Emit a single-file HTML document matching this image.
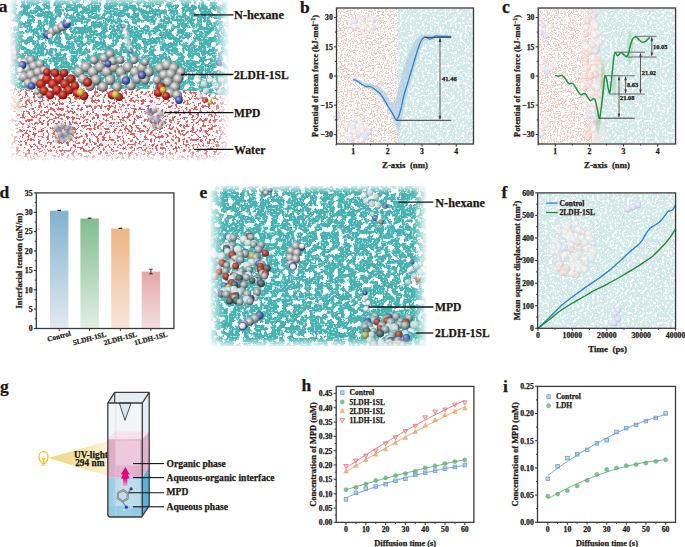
<!DOCTYPE html>
<html><head><meta charset="utf-8"><style>
html,body{margin:0;padding:0;background:#fff;width:685px;height:547px;overflow:hidden}
svg{display:block}
text{font-family:"Liberation Serif",serif;font-weight:bold;fill:#231815;stroke:#231815;stroke-width:0.25px}
</style></head><body>
<svg width="685" height="547" viewBox="0 0 685 547">
<defs>
<filter id="tealF" x="0" y="0" width="100%" height="100%" color-interpolation-filters="sRGB">
 <feTurbulence type="fractalNoise" baseFrequency="0.18" numOctaves="3" seed="4"/>
 <feColorMatrix type="matrix" values="0 0 0 0 1  0 0 0 0 1  0 0 0 0 1  14 0 0 0 -7.6"/>
</filter>
<filter id="tealF2" x="0" y="0" width="100%" height="100%" color-interpolation-filters="sRGB">
 <feTurbulence type="fractalNoise" baseFrequency="0.5" numOctaves="2" seed="11"/>
 <feColorMatrix type="matrix" values="0 0 0 0 0.7  0 0 0 0 0.88  0 0 0 0 0.88  10 0 0 0 -6.0"/>
</filter>
<filter id="ltF" x="0" y="0" width="100%" height="100%" color-interpolation-filters="sRGB">
 <feTurbulence type="fractalNoise" baseFrequency="0.4" numOctaves="3" seed="9"/>
 <feColorMatrix type="matrix" values="0 0 0 0 1  0 0 0 0 1  0 0 0 0 1  12 0 0 0 -6.5"/>
 <feGaussianBlur stdDeviation="0.6"/>
</filter>
<filter id="waterF" x="0" y="0" width="100%" height="100%" color-interpolation-filters="sRGB">
 <feTurbulence type="fractalNoise" baseFrequency="0.36" numOctaves="3" seed="7"/>
 <feColorMatrix type="matrix" values="0 0 0 0 0.85  0 0 0 0 0.38  0 0 0 0 0.38  18 0 0 0 -9.75"/>
 <feGaussianBlur stdDeviation="0.4"/>
</filter>
<filter id="pinkF" x="0" y="0" width="100%" height="100%" color-interpolation-filters="sRGB">
 <feTurbulence type="fractalNoise" baseFrequency="0.7" numOctaves="2" seed="5"/>
 <feColorMatrix type="matrix" values="0 0 0 0 0.95  0 0 0 0 0.8  0 0 0 0 0.76  14 0 0 0 -7.15"/>
 <feGaussianBlur stdDeviation="0.3"/>
</filter>
<filter id="soft" x="-2%" y="-2%" width="104%" height="104%" color-interpolation-filters="sRGB"><feGaussianBlur stdDeviation="0.4"/></filter>
<radialGradient id="gS" cx="0.38" cy="0.35" r="0.68"><stop offset="0" stop-color="#f4f4f4"/><stop offset="0.5" stop-color="#a8a8a8"/><stop offset="1" stop-color="#4a4a4a"/></radialGradient>
<radialGradient id="rS" cx="0.38" cy="0.35" r="0.65"><stop offset="0" stop-color="#e87a6a"/><stop offset="0.55" stop-color="#b8281e"/><stop offset="1" stop-color="#6a1010"/></radialGradient>
<radialGradient id="bS" cx="0.38" cy="0.35" r="0.65"><stop offset="0" stop-color="#a8b4e8"/><stop offset="0.55" stop-color="#4a5ab0"/><stop offset="1" stop-color="#22306a"/></radialGradient>
<radialGradient id="yS" cx="0.38" cy="0.35" r="0.65"><stop offset="0" stop-color="#f4e6a0"/><stop offset="0.55" stop-color="#c9a93a"/><stop offset="1" stop-color="#7a6010"/></radialGradient>
<radialGradient id="dS" cx="0.38" cy="0.35" r="0.65"><stop offset="0" stop-color="#9a9a9a"/><stop offset="0.55" stop-color="#555"/><stop offset="1" stop-color="#222"/></radialGradient>
<radialGradient id="fS" cx="0.4" cy="0.38" r="0.65"><stop offset="0" stop-color="#ffffff"/><stop offset="0.6" stop-color="#f1eaea"/><stop offset="1" stop-color="#d9c6c4"/></radialGradient>
<radialGradient id="fP" cx="0.4" cy="0.38" r="0.65"><stop offset="0" stop-color="#fbeeee"/><stop offset="0.6" stop-color="#efd2cc"/><stop offset="1" stop-color="#dcb0a8"/></radialGradient>
<radialGradient id="fB" cx="0.4" cy="0.38" r="0.65"><stop offset="0" stop-color="#f2f2fb"/><stop offset="0.6" stop-color="#d8dcf0"/><stop offset="1" stop-color="#b9bfdf"/></radialGradient>
<radialGradient id="wS" cx="0.38" cy="0.35" r="0.65"><stop offset="0" stop-color="#ffffff"/><stop offset="0.6" stop-color="#e2e2e2"/><stop offset="1" stop-color="#9a9a9a"/></radialGradient>
<linearGradient id="fadeX" x1="0" y1="0" x2="1" y2="0"><stop offset="0" stop-color="#fff" stop-opacity="1"/><stop offset="1" stop-color="#fff" stop-opacity="0"/></linearGradient>
<linearGradient id="fadeXr" x1="0" y1="0" x2="1" y2="0"><stop offset="0" stop-color="#fff" stop-opacity="0"/><stop offset="1" stop-color="#fff" stop-opacity="1"/></linearGradient>
<linearGradient id="fadeY" x1="0" y1="0" x2="0" y2="1"><stop offset="0" stop-color="#fff" stop-opacity="1"/><stop offset="1" stop-color="#fff" stop-opacity="0"/></linearGradient>
<linearGradient id="fadeYb" x1="0" y1="0" x2="0" y2="1"><stop offset="0" stop-color="#fff" stop-opacity="0"/><stop offset="1" stop-color="#fff" stop-opacity="1"/></linearGradient>
<linearGradient id="barB" x1="0" y1="0" x2="0" y2="1"><stop offset="0" stop-color="#7fb2cf"/><stop offset="1" stop-color="#e3e9ef"/></linearGradient>
<linearGradient id="barG" x1="0" y1="0" x2="0" y2="1"><stop offset="0" stop-color="#80bc8e"/><stop offset="1" stop-color="#e2efe4"/></linearGradient>
<linearGradient id="barO" x1="0" y1="0" x2="0" y2="1"><stop offset="0" stop-color="#efb584"/><stop offset="1" stop-color="#f8e6da"/></linearGradient>
<linearGradient id="barP" x1="0" y1="0" x2="0" y2="1"><stop offset="0" stop-color="#e5a6aa"/><stop offset="1" stop-color="#f2dfe0"/></linearGradient>
<linearGradient id="cone" x1="0" y1="0" x2="1" y2="0"><stop offset="0" stop-color="#efd47e"/><stop offset="0.6" stop-color="#f6e4a8"/><stop offset="1" stop-color="#fbf3da"/></linearGradient>
<linearGradient id="pinkT" x1="0" y1="0" x2="1" y2="0"><stop offset="0" stop-color="#d9a7c3"/><stop offset="0.5" stop-color="#e7bad2"/><stop offset="1" stop-color="#dba9c5"/></linearGradient>
<linearGradient id="blueT" x1="0" y1="0" x2="1" y2="0"><stop offset="0" stop-color="#94cbe2"/><stop offset="0.5" stop-color="#b6dcec"/><stop offset="1" stop-color="#99cde3"/></linearGradient>
<linearGradient id="pc2" x1="0" y1="0" x2="1" y2="0"><stop offset="0" stop-color="#f4e4e2" stop-opacity="0"/><stop offset="0.5" stop-color="#ece4e4" stop-opacity="0.7"/><stop offset="1" stop-color="#dde9e9" stop-opacity="0"/></linearGradient>
</defs>
<clipPath id="clA"><rect x="10" y="0" width="219" height="161"/></clipPath>
<clipPath id="clTeal"><path d="M10,0 H229 V95 C215,96 205,92 195,91 C180,90 165,90 150,89 C130,88 110,90 90,87 C70,85 50,88 30,89 C20,89 15,88 10,88 Z"/></clipPath>
<filter id="blur1" x="-20%" y="-20%" width="140%" height="140%"><feGaussianBlur stdDeviation="0.8"/></filter>
<g filter="url(#soft)"><g clip-path="url(#clA)">
<rect x="10" y="0" width="219" height="161" fill="#fff"/>
<rect x="10" y="60" width="219" height="101" filter="url(#waterF)"/>
<g clip-path="url(#clTeal)"><rect x="10" y="0" width="219" height="97" fill="#48b2b2"/><rect x="10" y="0" width="219" height="97" filter="url(#tealF2)"/><rect x="10" y="0" width="219" height="97" filter="url(#tealF)"/></g>
<circle cx="47.5" cy="34.5" r="4.4" fill="url(#bS)"/>
<circle cx="52.0" cy="31.5" r="4.6" fill="url(#gS)"/>
<circle cx="57.0" cy="29.0" r="4.6" fill="url(#gS)"/>
<circle cx="62.0" cy="26.5" r="4.6" fill="url(#gS)"/>
<circle cx="66.5" cy="24.0" r="4.2" fill="url(#bS)"/>
<circle cx="50.0" cy="36.0" r="2.5" fill="url(#wS)"/>
<circle cx="68.0" cy="21.0" r="2.4" fill="url(#wS)"/>
<g opacity="0.55">
<circle cx="124.0" cy="28.0" r="3.2" fill="url(#wS)"/>
<circle cx="125.5" cy="33.0" r="3.2" fill="url(#wS)"/>
<circle cx="127.0" cy="38.0" r="3.2" fill="url(#wS)"/>
<circle cx="128.5" cy="43.0" r="3.2" fill="url(#wS)"/>
<circle cx="130.0" cy="48.0" r="3.2" fill="url(#wS)"/>
<circle cx="123.0" cy="26.0" r="2.6" fill="url(#bS)"/>
<circle cx="131.0" cy="51.0" r="2.6" fill="url(#bS)"/>
</g>
<g opacity="0.6">
<circle cx="13.0" cy="44.0" r="3.5" fill="url(#gS)"/>
<circle cx="13.7" cy="48.7" r="3.5" fill="url(#gS)"/>
<circle cx="14.3" cy="53.3" r="3.5" fill="url(#gS)"/>
<circle cx="15.0" cy="58.0" r="3.5" fill="url(#gS)"/>
<circle cx="12.0" cy="42.0" r="2.6" fill="url(#bS)"/>
</g>
<circle cx="25.0" cy="62.0" r="4.6" fill="url(#gS)"/>
<circle cx="31.0" cy="60.0" r="4.4" fill="url(#gS)"/>
<circle cx="27.0" cy="69.0" r="4.9" fill="url(#gS)"/>
<circle cx="34.0" cy="66.0" r="4.8" fill="url(#gS)"/>
<circle cx="40.0" cy="64.0" r="4.4" fill="url(#gS)"/>
<circle cx="24.0" cy="77.0" r="4.9" fill="url(#gS)"/>
<circle cx="31.0" cy="75.0" r="5.1" fill="url(#gS)"/>
<circle cx="38.0" cy="72.0" r="4.8" fill="url(#gS)"/>
<circle cx="44.0" cy="70.0" r="4.1" fill="url(#gS)"/>
<circle cx="28.0" cy="83.0" r="4.4" fill="url(#gS)"/>
<circle cx="35.0" cy="81.0" r="4.6" fill="url(#gS)"/>
<circle cx="42.0" cy="78.0" r="4.1" fill="url(#gS)"/>
<circle cx="22.5" cy="65.0" r="3.9" fill="url(#bS)"/>
<circle cx="31.5" cy="86.0" r="3.7" fill="url(#bS)"/>
<circle cx="20.0" cy="70.0" r="3.0" fill="url(#wS)"/>
<circle cx="41.0" cy="84.0" r="4.8" fill="url(#rS)"/>
<circle cx="47.0" cy="79.0" r="4.8" fill="url(#rS)"/>
<circle cx="53.0" cy="84.0" r="4.9" fill="url(#rS)"/>
<circle cx="59.0" cy="79.0" r="4.9" fill="url(#rS)"/>
<circle cx="65.0" cy="84.0" r="4.8" fill="url(#rS)"/>
<circle cx="71.0" cy="79.0" r="4.6" fill="url(#rS)"/>
<circle cx="44.0" cy="91.0" r="4.7" fill="url(#rS)"/>
<circle cx="50.0" cy="95.0" r="4.4" fill="url(#rS)"/>
<circle cx="57.0" cy="90.0" r="4.8" fill="url(#rS)"/>
<circle cx="63.0" cy="95.0" r="4.5" fill="url(#rS)"/>
<circle cx="69.0" cy="90.0" r="4.6" fill="url(#rS)"/>
<circle cx="75.0" cy="86.0" r="4.4" fill="url(#rS)"/>
<circle cx="55.0" cy="73.0" r="4.1" fill="url(#rS)"/>
<circle cx="64.0" cy="73.0" r="4.1" fill="url(#rS)"/>
<circle cx="47.0" cy="72.0" r="3.8" fill="url(#rS)"/>
<circle cx="37.0" cy="92.0" r="2.8" fill="url(#gS)"/>
<circle cx="40.0" cy="96.0" r="2.5" fill="url(#gS)"/>
<circle cx="79.0" cy="72.0" r="5.3" fill="url(#gS)"/>
<circle cx="86.0" cy="67.0" r="5.3" fill="url(#gS)"/>
<circle cx="93.0" cy="72.0" r="5.4" fill="url(#gS)"/>
<circle cx="100.0" cy="67.0" r="5.3" fill="url(#gS)"/>
<circle cx="107.0" cy="72.0" r="5.4" fill="url(#gS)"/>
<circle cx="114.0" cy="67.0" r="5.3" fill="url(#gS)"/>
<circle cx="121.0" cy="72.0" r="5.3" fill="url(#gS)"/>
<circle cx="128.0" cy="67.0" r="5.2" fill="url(#gS)"/>
<circle cx="135.0" cy="72.0" r="5.2" fill="url(#gS)"/>
<circle cx="142.0" cy="68.0" r="4.9" fill="url(#gS)"/>
<circle cx="149.0" cy="72.0" r="4.8" fill="url(#gS)"/>
<circle cx="83.0" cy="79.0" r="5.1" fill="url(#gS)"/>
<circle cx="96.0" cy="80.0" r="5.2" fill="url(#gS)"/>
<circle cx="110.0" cy="80.0" r="5.2" fill="url(#gS)"/>
<circle cx="124.0" cy="79.0" r="5.1" fill="url(#gS)"/>
<circle cx="137.0" cy="79.0" r="4.9" fill="url(#gS)"/>
<circle cx="90.0" cy="86.0" r="4.8" fill="url(#gS)"/>
<circle cx="103.0" cy="87.0" r="4.9" fill="url(#gS)"/>
<circle cx="117.0" cy="87.0" r="4.8" fill="url(#gS)"/>
<circle cx="131.0" cy="86.0" r="4.6" fill="url(#gS)"/>
<circle cx="145.0" cy="80.0" r="4.6" fill="url(#gS)"/>
<circle cx="104.0" cy="58.0" r="4.6" fill="url(#gS)"/>
<circle cx="110.0" cy="54.0" r="4.4" fill="url(#gS)"/>
<circle cx="113.0" cy="61.0" r="4.4" fill="url(#gS)"/>
<circle cx="94.0" cy="60.0" r="4.4" fill="url(#gS)"/>
<circle cx="120.0" cy="60.0" r="4.0" fill="url(#gS)"/>
<circle cx="134.0" cy="60.0" r="4.0" fill="url(#gS)"/>
<circle cx="145.0" cy="62.0" r="3.9" fill="url(#gS)"/>
<circle cx="87.6" cy="82.3" r="4.5" fill="url(#rS)"/>
<circle cx="77.0" cy="93.0" r="4.3" fill="url(#rS)"/>
<circle cx="84.0" cy="96.0" r="4.4" fill="url(#rS)"/>
<circle cx="112.0" cy="95.0" r="4.4" fill="url(#rS)"/>
<circle cx="119.0" cy="97.0" r="4.1" fill="url(#rS)"/>
<circle cx="80.6" cy="92.5" r="3.9" fill="url(#yS)"/>
<circle cx="115.6" cy="94.6" r="3.9" fill="url(#yS)"/>
<circle cx="126.0" cy="80.6" r="4.1" fill="url(#bS)"/>
<circle cx="142.0" cy="75.3" r="4.0" fill="url(#bS)"/>
<circle cx="108.0" cy="64.0" r="3.4" fill="url(#bS)"/>
<circle cx="160.0" cy="68.0" r="5.1" fill="url(#gS)"/>
<circle cx="167.0" cy="65.0" r="5.2" fill="url(#gS)"/>
<circle cx="174.0" cy="68.0" r="5.1" fill="url(#gS)"/>
<circle cx="181.0" cy="72.0" r="4.6" fill="url(#gS)"/>
<circle cx="164.0" cy="75.0" r="5.1" fill="url(#gS)"/>
<circle cx="171.0" cy="74.0" r="5.3" fill="url(#gS)"/>
<circle cx="178.0" cy="79.0" r="5.1" fill="url(#gS)"/>
<circle cx="168.0" cy="82.0" r="5.1" fill="url(#gS)"/>
<circle cx="175.0" cy="87.0" r="5.1" fill="url(#gS)"/>
<circle cx="170.0" cy="93.0" r="4.8" fill="url(#gS)"/>
<circle cx="177.0" cy="95.0" r="4.8" fill="url(#gS)"/>
<circle cx="157.0" cy="80.0" r="4.4" fill="url(#gS)"/>
<circle cx="161.0" cy="87.0" r="4.6" fill="url(#rS)"/>
<circle cx="158.0" cy="93.0" r="4.1" fill="url(#rS)"/>
<circle cx="166.0" cy="96.0" r="3.9" fill="url(#rS)"/>
<circle cx="163.0" cy="90.0" r="3.4" fill="url(#yS)"/>
<circle cx="179.0" cy="100.0" r="3.9" fill="url(#bS)"/>
<g opacity="0.75">
<circle cx="198.0" cy="80.0" r="3.4" fill="url(#wS)"/>
<circle cx="204.0" cy="84.0" r="3.4" fill="url(#wS)"/>
<circle cx="210.0" cy="80.0" r="3.4" fill="url(#wS)"/>
<circle cx="216.0" cy="86.0" r="3.4" fill="url(#wS)"/>
<circle cx="206.0" cy="91.0" r="3.2" fill="url(#wS)"/>
<circle cx="221.0" cy="80.0" r="3.2" fill="url(#wS)"/>
<circle cx="213.0" cy="96.0" r="3.0" fill="url(#wS)"/>
<circle cx="220.0" cy="92.0" r="3.0" fill="url(#wS)"/>
<circle cx="200.0" cy="96.0" r="3.0" fill="url(#wS)"/>
<circle cx="224.0" cy="98.0" r="2.8" fill="url(#wS)"/>
<circle cx="205.0" cy="100.0" r="3.0" fill="url(#rS)"/>
<circle cx="210.0" cy="102.0" r="2.6" fill="url(#yS)"/>
<circle cx="219.0" cy="63.0" r="3.0" fill="url(#bS)"/>
<circle cx="223.0" cy="70.0" r="2.6" fill="url(#wS)"/>
</g>
<g filter="url(#blur1)" opacity="1">
<circle cx="56.0" cy="128.0" r="3.0" fill="url(#gS)"/>
<circle cx="62.0" cy="126.0" r="3.0" fill="url(#gS)"/>
<circle cx="68.0" cy="128.0" r="3.0" fill="url(#gS)"/>
<circle cx="60.0" cy="134.0" r="3.0" fill="url(#gS)"/>
<circle cx="66.0" cy="134.0" r="3.0" fill="url(#gS)"/>
<circle cx="72.0" cy="132.0" r="2.8" fill="url(#gS)"/>
<circle cx="58.0" cy="140.0" r="2.6" fill="url(#gS)"/>
<circle cx="64.0" cy="140.0" r="2.6" fill="url(#gS)"/>
<circle cx="70.0" cy="138.0" r="2.6" fill="url(#gS)"/>
<circle cx="60.0" cy="130.0" r="1.8" fill="url(#bS)"/>
<circle cx="67.0" cy="131.0" r="1.8" fill="url(#bS)"/>
<circle cx="63.0" cy="137.0" r="1.8" fill="url(#bS)"/>
<circle cx="70.0" cy="127.0" r="1.8" fill="url(#bS)"/>
<circle cx="149.0" cy="112.0" r="2.8" fill="url(#gS)"/>
<circle cx="155.0" cy="110.0" r="2.8" fill="url(#gS)"/>
<circle cx="161.0" cy="114.0" r="2.8" fill="url(#gS)"/>
<circle cx="151.0" cy="118.0" r="2.8" fill="url(#gS)"/>
<circle cx="157.0" cy="120.0" r="2.8" fill="url(#gS)"/>
<circle cx="163.0" cy="122.0" r="2.6" fill="url(#gS)"/>
<circle cx="154.0" cy="126.0" r="2.6" fill="url(#gS)"/>
<circle cx="160.0" cy="127.0" r="2.4" fill="url(#gS)"/>
<circle cx="152.0" cy="113.0" r="1.8" fill="url(#bS)"/>
<circle cx="158.0" cy="117.0" r="1.8" fill="url(#bS)"/>
<circle cx="155.0" cy="123.0" r="1.8" fill="url(#bS)"/>
<circle cx="149.0" cy="110.0" r="1.8" fill="url(#bS)"/>
<circle cx="14" cy="98" r="3" fill="#cfc6a8" opacity="0.7"/>
<circle cx="18" cy="103" r="3" fill="#cfc6a8" opacity="0.7"/>
<circle cx="14" cy="107" r="3" fill="#cfc6a8" opacity="0.7"/>
<circle cx="19" cy="109" r="3" fill="#cfc6a8" opacity="0.7"/>
</g>
</g></g>
<rect x="9" y="0" width="14" height="163" fill="url(#fadeX)"/>
<rect x="213" y="0" width="17" height="163" fill="url(#fadeXr)"/>
<rect x="9" y="149" width="222" height="13" fill="url(#fadeYb)"/>
<rect x="9" y="0" width="222" height="6" fill="url(#fadeY)" opacity="0.6"/>
<line x1="194.0" y1="14.9" x2="233.4" y2="14.9" stroke="#111" stroke-width="1.3" />
<text x="234.0" y="19.2" font-size="12.3" text-anchor="start" >N-hexane</text>
<line x1="181.0" y1="74.5" x2="233.4" y2="74.5" stroke="#111" stroke-width="1.3" />
<text x="234.0" y="78.8" font-size="11.6" text-anchor="start" >2LDH-1SL</text>
<line x1="164.7" y1="112.6" x2="233.4" y2="112.6" stroke="#111" stroke-width="1.3" />
<text x="234.0" y="117.0" font-size="11.6" text-anchor="start" >MPD</text>
<line x1="194.0" y1="149.3" x2="233.4" y2="149.3" stroke="#111" stroke-width="1.3" />
<text x="234.0" y="153.7" font-size="11.8" text-anchor="start" >Water</text>
<text x="-1.3" y="11.9" font-size="17.5" text-anchor="start" >a</text>
<rect x="337" y="8.6" width="61" height="134.8" filter="url(#pinkF)"/>
<rect x="398" y="8.6" width="75" height="134.8" fill="#d3e9e9"/>
<rect x="398" y="8.6" width="75" height="134.8" filter="url(#ltF)"/>
<g opacity="0.75">
<circle cx="360.1" cy="17.4" r="3.1" fill="url(#fS)"/>
<circle cx="359.6" cy="19.2" r="3.1" fill="url(#fB)"/>
<circle cx="362.6" cy="19.6" r="3.2" fill="url(#fS)"/>
<circle cx="362.5" cy="20.0" r="3.3" fill="url(#fB)"/>
<circle cx="369.5" cy="20.1" r="2.9" fill="url(#fS)"/>
<circle cx="370.6" cy="20.3" r="3.3" fill="url(#fS)"/>
<circle cx="372.5" cy="20.3" r="3.3" fill="url(#fB)"/>
<circle cx="350.9" cy="21.6" r="3.0" fill="url(#fS)"/>
<circle cx="354.4" cy="21.9" r="3.2" fill="url(#fB)"/>
<circle cx="360.6" cy="22.1" r="2.9" fill="url(#fS)"/>
<circle cx="362.9" cy="23.9" r="2.8" fill="url(#fS)"/>
<circle cx="371.0" cy="24.2" r="2.7" fill="url(#fS)"/>
<circle cx="361.8" cy="24.7" r="3.2" fill="url(#fS)"/>
<circle cx="359.6" cy="25.2" r="2.7" fill="url(#fS)"/>
<circle cx="359.0" cy="25.4" r="2.6" fill="url(#fS)"/>
<circle cx="364.5" cy="25.7" r="3.2" fill="url(#fS)"/>
<circle cx="354.3" cy="26.7" r="3.1" fill="url(#fS)"/>
<circle cx="365.1" cy="27.2" r="2.9" fill="url(#fS)"/>
<circle cx="373.2" cy="27.6" r="3.2" fill="url(#fB)"/>
<circle cx="371.2" cy="27.9" r="2.6" fill="url(#fS)"/>
<circle cx="362.4" cy="28.6" r="2.7" fill="url(#fS)"/>
<circle cx="369.2" cy="29.3" r="2.8" fill="url(#fS)"/>
<circle cx="359.4" cy="121.4" r="2.9" fill="url(#fS)"/>
<circle cx="355.0" cy="122.3" r="2.7" fill="url(#fB)"/>
<circle cx="360.3" cy="123.5" r="2.6" fill="url(#fS)"/>
<circle cx="354.5" cy="123.8" r="2.9" fill="url(#fB)"/>
<circle cx="353.7" cy="124.4" r="2.7" fill="url(#fS)"/>
<circle cx="346.7" cy="124.7" r="3.1" fill="url(#fS)"/>
<circle cx="358.4" cy="126.1" r="3.2" fill="url(#fS)"/>
<circle cx="365.8" cy="127.2" r="3.1" fill="url(#fS)"/>
<circle cx="352.9" cy="127.2" r="2.9" fill="url(#fB)"/>
<circle cx="361.5" cy="127.3" r="2.7" fill="url(#fS)"/>
<circle cx="369.4" cy="128.1" r="2.8" fill="url(#fS)"/>
<circle cx="358.8" cy="129.5" r="2.9" fill="url(#fS)"/>
<circle cx="362.9" cy="130.6" r="3.0" fill="url(#fS)"/>
<circle cx="351.1" cy="130.9" r="3.3" fill="url(#fS)"/>
<circle cx="350.3" cy="131.1" r="2.6" fill="url(#fS)"/>
<circle cx="358.8" cy="131.2" r="2.9" fill="url(#fB)"/>
<circle cx="354.4" cy="131.3" r="2.9" fill="url(#fS)"/>
<circle cx="368.8" cy="131.5" r="3.1" fill="url(#fB)"/>
<circle cx="361.6" cy="131.5" r="3.2" fill="url(#fS)"/>
<circle cx="361.9" cy="132.0" r="3.1" fill="url(#fS)"/>
<circle cx="358.6" cy="133.9" r="3.0" fill="url(#fB)"/>
<circle cx="346.9" cy="135.2" r="3.1" fill="url(#fS)"/>
<circle cx="364.8" cy="136.2" r="3.1" fill="url(#fS)"/>
<circle cx="349.7" cy="136.4" r="3.2" fill="url(#fS)"/>
<circle cx="365.5" cy="136.9" r="3.1" fill="url(#fB)"/>
<circle cx="361.9" cy="138.5" r="3.1" fill="url(#fB)"/>
<circle cx="351.5" cy="139.0" r="2.7" fill="url(#fB)"/>
<circle cx="361.2" cy="140.1" r="3.2" fill="url(#fS)"/>
<circle cx="381.6" cy="85.7" r="2.3" fill="url(#fS)"/>
<circle cx="380.5" cy="86.4" r="2.8" fill="url(#fB)"/>
<circle cx="385.1" cy="87.4" r="2.2" fill="url(#fS)"/>
<circle cx="383.4" cy="88.5" r="2.7" fill="url(#fS)"/>
<circle cx="386.4" cy="91.1" r="2.8" fill="url(#fS)"/>
<circle cx="377.1" cy="92.5" r="2.7" fill="url(#fS)"/>
<circle cx="378.7" cy="92.6" r="2.2" fill="url(#fS)"/>
<circle cx="377.4" cy="97.2" r="2.5" fill="url(#fS)"/>
<circle cx="379.6" cy="97.5" r="2.2" fill="url(#fB)"/>
<circle cx="380.2" cy="97.6" r="2.6" fill="url(#fS)"/>
<circle cx="382.7" cy="99.0" r="2.7" fill="url(#fS)"/>
<circle cx="379.5" cy="104.7" r="2.4" fill="url(#fS)"/>
<circle cx="337.2" cy="115.1" r="2.7" fill="url(#fB)"/>
<circle cx="336.9" cy="117.6" r="2.6" fill="url(#fB)"/>
<circle cx="335.0" cy="118.4" r="2.2" fill="url(#fB)"/>
</g>
<path d="M353.3,78.0 C354.1,78.2 356.1,78.7 358.0,79.5 C359.9,80.3 362.7,82.3 365.0,83.0 C367.3,83.7 369.5,83.0 372.0,83.8 C374.5,84.5 377.7,85.9 380.0,87.5 C382.3,89.1 384.3,91.2 386.0,93.5 C387.7,95.8 388.8,99.4 390.0,101.0 C391.2,102.6 392.0,103.7 393.0,103.0 C394.0,102.3 395.1,99.5 396.0,97.0 C396.9,94.5 397.8,91.0 398.5,88.0 C399.2,85.0 399.7,82.3 400.5,79.0 C401.3,75.7 402.4,71.7 403.5,68.0 C404.6,64.3 405.9,60.4 407.2,57.0 C408.5,53.6 410.0,50.3 411.5,47.5 C413.0,44.7 414.4,42.0 416.0,40.0 C417.6,38.0 419.6,36.2 421.3,35.3 C423.0,34.4 424.2,34.5 426.0,34.5 C427.8,34.5 430.0,35.2 432.0,35.2 C434.0,35.2 435.8,34.4 438.0,34.3 C440.2,34.2 442.8,34.7 445.0,34.8 C447.2,34.9 450.4,35.0 451.5,35.0 L451.5,38.2 C450.4,38.2 447.2,38.2 445.0,38.2 C442.8,38.2 440.2,37.7 438.0,38.0 C435.8,38.3 433.7,39.8 432.0,40.2 C430.3,40.6 429.2,40.4 428.0,40.4 C426.8,40.4 425.9,39.9 425.0,40.5 C424.1,41.1 423.3,42.2 422.5,44.0 C421.7,45.8 420.9,48.3 420.0,51.0 C419.1,53.7 418.0,56.8 417.0,60.0 C416.0,63.2 415.1,66.3 414.0,70.0 C412.9,73.7 411.7,77.8 410.5,82.0 C409.3,86.2 408.1,90.7 407.0,95.0 C405.9,99.3 404.9,103.8 404.0,108.0 C403.1,112.2 402.3,116.3 401.5,120.0 C400.7,123.7 399.7,128.0 399.0,130.0 C398.3,132.0 398.2,132.8 397.5,132.0 C396.8,131.2 396.1,127.8 395.0,125.0 C393.9,122.2 392.5,118.2 391.0,115.0 C389.5,111.8 387.7,108.8 386.0,106.0 C384.3,103.2 382.8,100.3 381.0,98.0 C379.2,95.7 377.2,93.6 375.0,92.0 C372.8,90.4 370.5,89.8 368.0,88.5 C365.5,87.2 362.4,85.8 360.0,84.5 C357.6,83.2 354.4,81.6 353.3,81.0 Z" fill="#a9c9df" opacity="0.65"/>
<path d="M353.3,79.4 C354.1,79.8 356.4,80.7 357.8,81.5 C359.2,82.3 360.3,83.5 361.6,84.3 C362.9,85.1 364.3,85.9 365.5,86.3 C366.7,86.7 367.8,86.4 368.7,86.5 C369.6,86.6 370.0,86.4 371.2,87.0 C372.4,87.6 374.2,88.9 375.7,90.1 C377.2,91.2 378.9,92.5 380.2,93.9 C381.5,95.3 382.2,96.6 383.4,98.4 C384.6,100.2 385.9,102.7 387.2,104.8 C388.5,106.9 389.9,109.2 391.1,111.2 C392.3,113.2 393.5,115.5 394.3,116.9 C395.1,118.4 395.5,120.0 396.2,119.9 C396.9,119.8 397.8,118.4 398.7,116.3 C399.6,114.2 400.4,110.7 401.3,107.3 C402.2,103.9 402.7,99.9 403.8,95.8 C404.9,91.7 406.5,86.9 407.8,82.6 C409.1,78.3 410.3,74.1 411.6,69.8 C412.9,65.5 414.3,60.9 415.5,57.0 C416.7,53.1 417.6,49.6 418.7,46.7 C419.8,43.8 420.8,41.3 421.9,39.7 C423.0,38.1 424.2,37.5 425.1,37.2 C426.1,36.9 426.9,37.5 427.6,37.8 C428.3,38.1 428.8,39.0 429.5,39.1 C430.2,39.2 431.0,38.9 432.1,38.4 C433.2,37.9 434.7,36.2 435.9,35.9 C437.1,35.5 437.8,36.2 439.1,36.3 C440.4,36.4 442.2,36.5 443.6,36.5 C445.0,36.5 446.2,36.5 447.4,36.5 C448.6,36.5 450.4,36.6 451.0,36.6" fill="none" stroke="#2b86c9" stroke-width="1.3"/>
<line x1="424.6" y1="37.3" x2="451.2" y2="37.3" stroke="#3a3a3a" stroke-width="1.0" />
<line x1="396.0" y1="120.3" x2="451.0" y2="120.3" stroke="#3a3a3a" stroke-width="1.0" />
<line x1="440.0" y1="38.5" x2="440.0" y2="119.0" stroke="#3a3a3a" stroke-width="0.8" />
<path d="M438.6,42 L440,37.6 L441.4,42 Z M438.6,115.8 L440,120 L441.4,115.8 Z" fill="#3a3a3a"/>
<text x="442.0" y="81.0" font-size="6.6" text-anchor="start" >41.46</text>
<rect x="336.5" y="8.0" width="137.0" height="136.0" fill="none" stroke="#3a3a3a" stroke-width="1.3"/>
<line x1="334.0" y1="17.5" x2="336.5" y2="17.5" stroke="#3a3a3a" stroke-width="1.1" />
<text x="332.8" y="20.3" font-size="7.8" text-anchor="end" >30</text>
<line x1="334.0" y1="46.8" x2="336.5" y2="46.8" stroke="#3a3a3a" stroke-width="1.1" />
<text x="332.8" y="49.5" font-size="7.8" text-anchor="end" >15</text>
<line x1="334.0" y1="76.0" x2="336.5" y2="76.0" stroke="#3a3a3a" stroke-width="1.1" />
<text x="332.8" y="78.8" font-size="7.8" text-anchor="end" >0</text>
<line x1="334.0" y1="105.2" x2="336.5" y2="105.2" stroke="#3a3a3a" stroke-width="1.1" />
<text x="332.8" y="108.0" font-size="7.8" text-anchor="end" >−15</text>
<line x1="334.0" y1="134.5" x2="336.5" y2="134.5" stroke="#3a3a3a" stroke-width="1.1" />
<text x="332.8" y="137.3" font-size="7.8" text-anchor="end" >−30</text>
<line x1="335.0" y1="32.1" x2="336.5" y2="32.1" stroke="#3a3a3a" stroke-width="1.0" />
<line x1="335.0" y1="61.4" x2="336.5" y2="61.4" stroke="#3a3a3a" stroke-width="1.0" />
<line x1="335.0" y1="90.6" x2="336.5" y2="90.6" stroke="#3a3a3a" stroke-width="1.0" />
<line x1="335.0" y1="119.9" x2="336.5" y2="119.9" stroke="#3a3a3a" stroke-width="1.0" />
<line x1="353.3" y1="144.0" x2="353.3" y2="146.5" stroke="#3a3a3a" stroke-width="1.1" />
<text x="353.3" y="154.0" font-size="7.8" text-anchor="middle" >1</text>
<line x1="387.6" y1="144.0" x2="387.6" y2="146.5" stroke="#3a3a3a" stroke-width="1.1" />
<text x="387.6" y="154.0" font-size="7.8" text-anchor="middle" >2</text>
<line x1="422.0" y1="144.0" x2="422.0" y2="146.5" stroke="#3a3a3a" stroke-width="1.1" />
<text x="422.0" y="154.0" font-size="7.8" text-anchor="middle" >3</text>
<line x1="456.3" y1="144.0" x2="456.3" y2="146.5" stroke="#3a3a3a" stroke-width="1.1" />
<text x="456.3" y="154.0" font-size="7.8" text-anchor="middle" >4</text>
<line x1="336.1" y1="144.0" x2="336.1" y2="145.5" stroke="#3a3a3a" stroke-width="1.0" />
<line x1="370.5" y1="144.0" x2="370.5" y2="145.5" stroke="#3a3a3a" stroke-width="1.0" />
<line x1="404.8" y1="144.0" x2="404.8" y2="145.5" stroke="#3a3a3a" stroke-width="1.0" />
<line x1="439.1" y1="144.0" x2="439.1" y2="145.5" stroke="#3a3a3a" stroke-width="1.0" />
<text x="0" y="0" font-size="8.4" text-anchor="middle" transform="translate(317.8,75.9) rotate(-90)">Potential of mean force (kJ·mol<tspan dy="-3" font-size="6">−1</tspan><tspan dy="3">)</tspan></text>
<text x="405.0" y="168.0" font-size="8.8" text-anchor="middle" >Z-axis  (nm)</text>
<text x="300.0" y="12.9" font-size="17.5" text-anchor="start" >b</text>
<rect x="538.8" y="8.6" width="62" height="134.8" filter="url(#pinkF)"/>
<rect x="598" y="8.6" width="77" height="134.8" fill="#d3e9e9"/>
<rect x="598" y="8.6" width="77" height="134.8" filter="url(#ltF)"/>
<rect x="588" y="8.6" width="16" height="134.8" fill="url(#pc2)"/>
<g opacity="0.7">
<circle cx="590.1" cy="12.3" r="3.2" fill="url(#fP)"/>
<circle cx="594.9" cy="14.5" r="3.2" fill="url(#fB)"/>
<circle cx="591.6" cy="16.9" r="3.5" fill="url(#fS)"/>
<circle cx="588.9" cy="18.6" r="3.7" fill="url(#fP)"/>
<circle cx="588.0" cy="19.9" r="3.8" fill="url(#fS)"/>
<circle cx="587.1" cy="21.0" r="3.7" fill="url(#fP)"/>
<circle cx="593.8" cy="22.2" r="3.9" fill="url(#fB)"/>
<circle cx="593.9" cy="24.4" r="3.5" fill="url(#fS)"/>
<circle cx="595.4" cy="26.1" r="3.9" fill="url(#fS)"/>
<circle cx="587.3" cy="27.0" r="3.1" fill="url(#fS)"/>
<circle cx="585.7" cy="27.6" r="3.3" fill="url(#fS)"/>
<circle cx="598.3" cy="33.1" r="3.5" fill="url(#fS)"/>
<circle cx="586.0" cy="34.1" r="3.3" fill="url(#fP)"/>
<circle cx="594.7" cy="35.3" r="3.7" fill="url(#fS)"/>
<circle cx="583.4" cy="41.5" r="3.6" fill="url(#fS)"/>
<circle cx="599.4" cy="42.8" r="3.5" fill="url(#fS)"/>
<circle cx="585.3" cy="43.1" r="3.8" fill="url(#fP)"/>
<circle cx="596.6" cy="44.6" r="3.6" fill="url(#fS)"/>
<circle cx="585.3" cy="44.6" r="3.3" fill="url(#fB)"/>
<circle cx="593.3" cy="46.0" r="3.4" fill="url(#fB)"/>
<circle cx="585.6" cy="47.2" r="3.8" fill="url(#fS)"/>
<circle cx="587.6" cy="48.1" r="3.9" fill="url(#fS)"/>
<circle cx="597.1" cy="49.1" r="3.2" fill="url(#fP)"/>
<circle cx="592.4" cy="49.8" r="3.8" fill="url(#fP)"/>
<circle cx="590.9" cy="50.6" r="3.9" fill="url(#fP)"/>
<circle cx="595.6" cy="51.1" r="3.5" fill="url(#fB)"/>
<circle cx="584.5" cy="53.2" r="3.6" fill="url(#fP)"/>
<circle cx="586.4" cy="54.6" r="3.2" fill="url(#fP)"/>
<circle cx="583.6" cy="56.8" r="3.5" fill="url(#fB)"/>
<circle cx="584.5" cy="57.7" r="3.5" fill="url(#fP)"/>
<circle cx="593.0" cy="58.1" r="3.6" fill="url(#fS)"/>
<circle cx="598.6" cy="59.7" r="3.1" fill="url(#fP)"/>
<circle cx="585.2" cy="61.0" r="3.9" fill="url(#fP)"/>
<circle cx="596.3" cy="61.9" r="3.5" fill="url(#fP)"/>
<circle cx="585.3" cy="63.6" r="3.4" fill="url(#fP)"/>
<circle cx="598.4" cy="64.1" r="3.8" fill="url(#fP)"/>
<circle cx="593.1" cy="64.6" r="3.6" fill="url(#fS)"/>
<circle cx="590.3" cy="67.2" r="3.5" fill="url(#fP)"/>
<circle cx="594.2" cy="67.3" r="3.7" fill="url(#fB)"/>
<circle cx="586.4" cy="67.8" r="3.1" fill="url(#fS)"/>
<circle cx="593.6" cy="67.9" r="3.5" fill="url(#fP)"/>
<circle cx="584.4" cy="68.5" r="3.4" fill="url(#fS)"/>
<circle cx="600.6" cy="68.7" r="3.9" fill="url(#fS)"/>
<circle cx="594.2" cy="69.4" r="3.9" fill="url(#fS)"/>
<circle cx="599.9" cy="70.2" r="3.3" fill="url(#fP)"/>
<circle cx="599.2" cy="71.0" r="3.5" fill="url(#fB)"/>
<circle cx="593.0" cy="72.5" r="3.2" fill="url(#fS)"/>
<circle cx="600.2" cy="72.9" r="3.5" fill="url(#fP)"/>
<circle cx="595.0" cy="74.6" r="3.8" fill="url(#fP)"/>
<circle cx="590.3" cy="76.0" r="3.9" fill="url(#fP)"/>
<circle cx="584.7" cy="76.6" r="3.5" fill="url(#fP)"/>
<circle cx="600.5" cy="79.9" r="3.3" fill="url(#fP)"/>
<circle cx="582.5" cy="81.1" r="3.2" fill="url(#fP)"/>
<circle cx="584.6" cy="82.8" r="3.6" fill="url(#fS)"/>
<circle cx="585.6" cy="82.8" r="3.9" fill="url(#fP)"/>
<circle cx="590.0" cy="82.9" r="3.2" fill="url(#fB)"/>
<circle cx="598.3" cy="84.6" r="3.8" fill="url(#fP)"/>
<circle cx="595.7" cy="85.7" r="3.1" fill="url(#fS)"/>
<circle cx="588.6" cy="85.9" r="3.2" fill="url(#fP)"/>
<circle cx="582.8" cy="85.9" r="3.3" fill="url(#fS)"/>
<circle cx="594.8" cy="86.1" r="3.7" fill="url(#fS)"/>
<circle cx="597.5" cy="87.7" r="3.3" fill="url(#fS)"/>
<circle cx="591.4" cy="90.1" r="3.4" fill="url(#fP)"/>
<circle cx="581.4" cy="93.0" r="3.6" fill="url(#fS)"/>
<circle cx="582.6" cy="93.4" r="3.2" fill="url(#fB)"/>
<circle cx="591.4" cy="93.5" r="3.7" fill="url(#fS)"/>
<circle cx="600.3" cy="95.3" r="3.2" fill="url(#fP)"/>
<circle cx="587.5" cy="96.9" r="3.5" fill="url(#fS)"/>
<circle cx="587.0" cy="98.5" r="3.3" fill="url(#fS)"/>
<circle cx="588.0" cy="99.4" r="3.2" fill="url(#fB)"/>
<circle cx="599.2" cy="101.5" r="3.5" fill="url(#fB)"/>
<circle cx="585.8" cy="102.0" r="3.5" fill="url(#fS)"/>
<circle cx="597.8" cy="102.4" r="3.4" fill="url(#fS)"/>
<circle cx="590.4" cy="103.3" r="3.4" fill="url(#fS)"/>
<circle cx="593.8" cy="103.7" r="3.5" fill="url(#fS)"/>
<circle cx="584.5" cy="104.1" r="3.2" fill="url(#fS)"/>
<circle cx="585.1" cy="104.3" r="3.2" fill="url(#fP)"/>
<circle cx="598.6" cy="105.1" r="3.6" fill="url(#fS)"/>
<circle cx="584.8" cy="105.6" r="3.6" fill="url(#fS)"/>
<circle cx="599.0" cy="106.3" r="3.5" fill="url(#fP)"/>
<circle cx="592.0" cy="110.4" r="3.8" fill="url(#fS)"/>
<circle cx="588.9" cy="113.5" r="3.6" fill="url(#fB)"/>
<circle cx="589.6" cy="115.4" r="3.8" fill="url(#fB)"/>
<circle cx="594.1" cy="115.6" r="3.3" fill="url(#fB)"/>
<circle cx="597.7" cy="121.0" r="3.7" fill="url(#fP)"/>
<circle cx="592.4" cy="125.1" r="3.8" fill="url(#fP)"/>
<circle cx="593.5" cy="129.1" r="3.9" fill="url(#fS)"/>
<circle cx="587.4" cy="129.1" r="3.3" fill="url(#fP)"/>
<circle cx="588.7" cy="135.5" r="3.3" fill="url(#fP)"/>
<circle cx="587.7" cy="136.3" r="3.9" fill="url(#fP)"/>
</g>
<g opacity="0.7">
<circle cx="541.5" cy="22.9" r="2.6" fill="url(#fS)"/>
<circle cx="540.3" cy="23.2" r="2.5" fill="url(#fB)"/>
<circle cx="543.0" cy="25.6" r="3.0" fill="url(#fB)"/>
<circle cx="550.3" cy="26.3" r="3.1" fill="url(#fS)"/>
<circle cx="540.6" cy="28.6" r="2.4" fill="url(#fS)"/>
<circle cx="543.7" cy="31.3" r="2.9" fill="url(#fS)"/>
<circle cx="540.8" cy="32.3" r="3.0" fill="url(#fB)"/>
<circle cx="545.6" cy="36.2" r="2.8" fill="url(#fB)"/>
<circle cx="545.9" cy="59.8" r="2.4" fill="url(#fB)"/>
<circle cx="541.7" cy="62.4" r="3.1" fill="url(#fS)"/>
<circle cx="553.6" cy="66.0" r="2.5" fill="url(#fS)"/>
<circle cx="544.1" cy="67.3" r="2.5" fill="url(#fS)"/>
<circle cx="547.3" cy="67.3" r="2.6" fill="url(#fB)"/>
<circle cx="549.7" cy="67.8" r="2.9" fill="url(#fS)"/>
<circle cx="550.6" cy="68.1" r="3.0" fill="url(#fS)"/>
<circle cx="544.5" cy="69.7" r="2.7" fill="url(#fB)"/>
<circle cx="548.3" cy="69.8" r="2.7" fill="url(#fS)"/>
<circle cx="547.4" cy="71.6" r="2.9" fill="url(#fB)"/>
<circle cx="546.6" cy="122.6" r="3.0" fill="url(#fS)"/>
<circle cx="546.4" cy="125.3" r="2.6" fill="url(#fS)"/>
<circle cx="543.5" cy="126.5" r="2.5" fill="url(#fS)"/>
<circle cx="542.3" cy="128.0" r="2.7" fill="url(#fS)"/>
<circle cx="540.7" cy="133.6" r="2.9" fill="url(#fS)"/>
<circle cx="542.1" cy="134.2" r="2.7" fill="url(#fB)"/>
</g>
<circle cx="597.0" cy="119.0" r="3.2" fill="url(#wS)"/>
<circle cx="597" cy="119" r="3.2" fill="#cfe8e8" opacity="0.5"/>
<circle cx="600" cy="128" r="3" fill="#e6e6ea" opacity="0.8"/>
<circle cx="604" cy="134" r="3" fill="#e6e6ea" opacity="0.8"/>
<circle cx="598" cy="138" r="3" fill="#e6e6ea" opacity="0.8"/>
<path d="M603,60 C606,70 606,90 603,100 C600,90 600,70 603,60 Z" fill="#8fcf9a" opacity="0.45"/>
<path d="M598,108 C601,114 601,128 598,135 C595,128 595,114 598,108 Z" fill="#8fcf9a" opacity="0.45"/>
<path d="M614,72 C617,80 617,94 614,100 C611,94 611,80 614,72 Z" fill="#8fcf9a" opacity="0.4"/>
<path d="M630,30 C634,36 634,60 630,66 C626,60 626,36 630,30 Z" fill="#8fcf9a" opacity="0.4"/>
<path d="M555.1,75.4 C555.5,75.5 556.9,75.9 557.7,76.0 C558.5,76.1 559.2,75.9 560.0,75.8 C560.8,75.7 561.4,75.2 562.2,75.6 C563.0,75.9 563.9,76.9 564.7,77.9 C565.6,78.9 566.5,80.7 567.3,81.7 C568.0,82.7 568.6,83.7 569.2,84.0 C569.8,84.3 570.5,83.3 571.1,83.3 C571.7,83.2 572.2,83.0 573.0,83.7 C573.8,84.4 574.6,86.0 575.6,87.5 C576.6,89.0 577.8,91.4 578.8,92.6 C579.8,93.8 580.4,94.6 581.3,94.8 C582.1,95.0 583.1,93.6 583.9,93.5 C584.6,93.4 585.0,93.5 585.8,94.3 C586.5,95.1 587.6,97.3 588.4,98.4 C589.2,99.5 590.0,100.6 590.7,100.7 C591.5,100.8 592.2,99.2 592.9,99.0 C593.6,98.8 594.3,98.5 594.8,99.2 C595.3,100.0 595.6,101.5 596.1,103.5 C596.6,105.5 597.1,108.8 597.6,111.2 C598.1,113.7 598.8,117.8 599.3,118.2 C599.8,118.6 600.1,116.2 600.5,113.7 C600.9,111.2 601.3,107.8 601.8,103.5 C602.3,99.2 603.0,92.4 603.5,88.1 C604.0,83.8 604.2,79.5 604.6,77.5 C605.0,75.5 605.2,75.7 605.6,76.2 C606.0,76.7 606.5,78.4 606.9,80.5 C607.3,82.6 607.8,87.0 608.3,89.0 C608.8,91.0 609.2,93.5 609.6,92.8 C610.0,92.1 610.4,89.4 610.9,85.1 C611.4,80.8 612.3,72.1 612.8,67.2 C613.3,62.3 613.7,58.2 614.1,55.7 C614.5,53.2 614.9,52.5 615.4,52.5 C615.9,52.5 616.7,55.4 617.3,55.7 C617.9,56.0 618.6,54.9 619.2,54.4 C619.8,53.9 620.5,52.6 621.1,52.5 C621.7,52.4 622.2,53.2 623.0,53.8 C623.8,54.4 624.9,56.0 625.6,56.3 C626.4,56.6 627.0,56.3 627.5,55.7 C628.0,55.1 628.3,54.4 628.8,52.5 C629.3,50.6 630.1,46.4 630.7,44.2 C631.3,42.0 632.0,40.3 632.6,39.1 C633.2,37.9 633.9,37.5 634.5,37.2 C635.1,36.9 635.9,36.9 636.5,37.2 C637.1,37.5 637.7,38.4 638.4,39.1 C639.1,39.8 640.1,40.9 640.9,41.4 C641.6,41.9 642.1,42.3 642.9,42.3 C643.6,42.3 644.5,41.9 645.4,41.4 C646.2,40.9 647.2,39.8 648.0,39.1 C648.8,38.4 649.6,37.5 649.9,37.2" fill="none" stroke="#1e9444" stroke-width="1.5"/>
<line x1="634.7" y1="36.3" x2="656.6" y2="36.3" stroke="#6a6a6a" stroke-width="1.0" />
<line x1="626.0" y1="57.0" x2="656.6" y2="57.0" stroke="#6a6a6a" stroke-width="1.0" />
<line x1="614.2" y1="52.2" x2="645.0" y2="52.2" stroke="#6a6a6a" stroke-width="1.0" />
<line x1="604.0" y1="75.8" x2="634.7" y2="75.8" stroke="#6a6a6a" stroke-width="1.0" />
<line x1="609.0" y1="94.0" x2="645.0" y2="94.0" stroke="#6a6a6a" stroke-width="1.0" />
<line x1="599.0" y1="118.2" x2="634.7" y2="118.2" stroke="#3a3a3a" stroke-width="1.0" />
<line x1="651.8" y1="37.8" x2="651.8" y2="55.5" stroke="#3a3a3a" stroke-width="0.8" />
<path d="M650.5,40.8 L651.8,36.8 L653.0999999999999,40.8 Z M650.5,52.5 L651.8,56.5 L653.0999999999999,52.5 Z" fill="#3a3a3a"/>
<line x1="640.5" y1="53.7" x2="640.5" y2="92.5" stroke="#3a3a3a" stroke-width="0.8" />
<path d="M639.2,56.7 L640.5,52.7 L641.8,56.7 Z M639.2,89.5 L640.5,93.5 L641.8,89.5 Z" fill="#3a3a3a"/>
<line x1="619.0" y1="77.3" x2="619.0" y2="116.7" stroke="#3a3a3a" stroke-width="0.8" />
<path d="M617.7,80.3 L619,76.3 L620.3,80.3 Z M617.7,113.7 L619,117.7 L620.3,113.7 Z" fill="#3a3a3a"/>
<line x1="625.6" y1="77.3" x2="625.6" y2="92.5" stroke="#3a3a3a" stroke-width="0.8" />
<path d="M624.3000000000001,80.3 L625.6,76.3 L626.9,80.3 Z M624.3000000000001,89.5 L625.6,93.5 L626.9,89.5 Z" fill="#3a3a3a"/>
<text x="653.0" y="49.3" font-size="6.4" text-anchor="start" >10.05</text>
<text x="641.7" y="75.0" font-size="6.4" text-anchor="start" >21.02</text>
<text x="627.0" y="87.2" font-size="6.4" text-anchor="start" >8.63</text>
<text x="620.0" y="100.0" font-size="6.4" text-anchor="start" >21.08</text>
<rect x="538.2" y="8.0" width="137.4" height="136.0" fill="none" stroke="#3a3a3a" stroke-width="1.3"/>
<line x1="535.7" y1="17.5" x2="538.2" y2="17.5" stroke="#3a3a3a" stroke-width="1.1" />
<text x="534.5" y="20.3" font-size="7.8" text-anchor="end" >30</text>
<line x1="535.7" y1="46.8" x2="538.2" y2="46.8" stroke="#3a3a3a" stroke-width="1.1" />
<text x="534.5" y="49.5" font-size="7.8" text-anchor="end" >15</text>
<line x1="535.7" y1="76.0" x2="538.2" y2="76.0" stroke="#3a3a3a" stroke-width="1.1" />
<text x="534.5" y="78.8" font-size="7.8" text-anchor="end" >0</text>
<line x1="535.7" y1="105.2" x2="538.2" y2="105.2" stroke="#3a3a3a" stroke-width="1.1" />
<text x="534.5" y="108.0" font-size="7.8" text-anchor="end" >−15</text>
<line x1="535.7" y1="134.5" x2="538.2" y2="134.5" stroke="#3a3a3a" stroke-width="1.1" />
<text x="534.5" y="137.3" font-size="7.8" text-anchor="end" >−30</text>
<line x1="536.7" y1="32.1" x2="538.2" y2="32.1" stroke="#3a3a3a" stroke-width="1.0" />
<line x1="536.7" y1="61.4" x2="538.2" y2="61.4" stroke="#3a3a3a" stroke-width="1.0" />
<line x1="536.7" y1="90.6" x2="538.2" y2="90.6" stroke="#3a3a3a" stroke-width="1.0" />
<line x1="536.7" y1="119.9" x2="538.2" y2="119.9" stroke="#3a3a3a" stroke-width="1.0" />
<line x1="555.3" y1="144.0" x2="555.3" y2="146.5" stroke="#3a3a3a" stroke-width="1.1" />
<text x="555.3" y="154.0" font-size="7.8" text-anchor="middle" >1</text>
<line x1="589.4" y1="144.0" x2="589.4" y2="146.5" stroke="#3a3a3a" stroke-width="1.1" />
<text x="589.4" y="154.0" font-size="7.8" text-anchor="middle" >2</text>
<line x1="623.5" y1="144.0" x2="623.5" y2="146.5" stroke="#3a3a3a" stroke-width="1.1" />
<text x="623.5" y="154.0" font-size="7.8" text-anchor="middle" >3</text>
<line x1="657.6" y1="144.0" x2="657.6" y2="146.5" stroke="#3a3a3a" stroke-width="1.1" />
<text x="657.6" y="154.0" font-size="7.8" text-anchor="middle" >4</text>
<line x1="538.2" y1="144.0" x2="538.2" y2="145.5" stroke="#3a3a3a" stroke-width="1.0" />
<line x1="572.3" y1="144.0" x2="572.3" y2="145.5" stroke="#3a3a3a" stroke-width="1.0" />
<line x1="606.4" y1="144.0" x2="606.4" y2="145.5" stroke="#3a3a3a" stroke-width="1.0" />
<line x1="640.5" y1="144.0" x2="640.5" y2="145.5" stroke="#3a3a3a" stroke-width="1.0" />
<text x="0" y="0" font-size="8.4" text-anchor="middle" transform="translate(519.6,75.9) rotate(-90)">Potential of mean force (kJ·mol<tspan dy="-3" font-size="6">−1</tspan><tspan dy="3">)</tspan></text>
<text x="607.0" y="168.0" font-size="8.8" text-anchor="middle" >Z-axis  (nm)</text>
<text x="501.9" y="12.9" font-size="17.8" text-anchor="start" >c</text>
<rect x="50.0" y="210.7" width="18.4" height="117.8" fill="url(#barB)"/>
<line x1="57.4" y1="210.4" x2="61.0" y2="210.4" stroke="#222" stroke-width="1.2" />
<rect x="80.4" y="218.5" width="18.4" height="110.0" fill="url(#barG)"/>
<line x1="87.8" y1="218.2" x2="91.4" y2="218.2" stroke="#222" stroke-width="1.2" />
<rect x="111.2" y="228.6" width="18.4" height="99.9" fill="url(#barO)"/>
<line x1="118.6" y1="228.3" x2="122.2" y2="228.3" stroke="#222" stroke-width="1.2" />
<rect x="141.7" y="271.6" width="18.4" height="56.9" fill="url(#barP)"/>
<line x1="150.9" y1="269.2" x2="150.9" y2="273.9" stroke="#222" stroke-width="0.9" />
<line x1="149.1" y1="269.2" x2="152.7" y2="269.2" stroke="#222" stroke-width="0.9" />
<line x1="149.1" y1="273.9" x2="152.7" y2="273.9" stroke="#222" stroke-width="0.9" />
<rect x="36.3" y="192.9" width="137.6" height="135.6" fill="none" stroke="#3a3a3a" stroke-width="1.3"/>
<line x1="33.8" y1="328.5" x2="36.3" y2="328.5" stroke="#3a3a3a" stroke-width="1.1" />
<text x="32.6" y="331.3" font-size="7.8" text-anchor="end" >0</text>
<line x1="33.8" y1="309.1" x2="36.3" y2="309.1" stroke="#3a3a3a" stroke-width="1.1" />
<text x="32.6" y="311.9" font-size="7.8" text-anchor="end" >5</text>
<line x1="33.8" y1="289.8" x2="36.3" y2="289.8" stroke="#3a3a3a" stroke-width="1.1" />
<text x="32.6" y="292.6" font-size="7.8" text-anchor="end" >10</text>
<line x1="33.8" y1="270.4" x2="36.3" y2="270.4" stroke="#3a3a3a" stroke-width="1.1" />
<text x="32.6" y="273.2" font-size="7.8" text-anchor="end" >15</text>
<line x1="33.8" y1="251.0" x2="36.3" y2="251.0" stroke="#3a3a3a" stroke-width="1.1" />
<text x="32.6" y="253.8" font-size="7.8" text-anchor="end" >20</text>
<line x1="33.8" y1="231.6" x2="36.3" y2="231.6" stroke="#3a3a3a" stroke-width="1.1" />
<text x="32.6" y="234.4" font-size="7.8" text-anchor="end" >25</text>
<line x1="33.8" y1="212.3" x2="36.3" y2="212.3" stroke="#3a3a3a" stroke-width="1.1" />
<text x="32.6" y="215.1" font-size="7.8" text-anchor="end" >30</text>
<line x1="33.8" y1="192.9" x2="36.3" y2="192.9" stroke="#3a3a3a" stroke-width="1.1" />
<text x="32.6" y="195.7" font-size="7.8" text-anchor="end" >35</text>
<line x1="34.8" y1="318.8" x2="36.3" y2="318.8" stroke="#3a3a3a" stroke-width="1.0" />
<line x1="34.8" y1="299.4" x2="36.3" y2="299.4" stroke="#3a3a3a" stroke-width="1.0" />
<line x1="34.8" y1="280.1" x2="36.3" y2="280.1" stroke="#3a3a3a" stroke-width="1.0" />
<line x1="34.8" y1="260.7" x2="36.3" y2="260.7" stroke="#3a3a3a" stroke-width="1.0" />
<line x1="34.8" y1="241.3" x2="36.3" y2="241.3" stroke="#3a3a3a" stroke-width="1.0" />
<line x1="34.8" y1="222.0" x2="36.3" y2="222.0" stroke="#3a3a3a" stroke-width="1.0" />
<line x1="34.8" y1="202.6" x2="36.3" y2="202.6" stroke="#3a3a3a" stroke-width="1.0" />
<line x1="59.2" y1="328.5" x2="59.2" y2="331.0" stroke="#3a3a3a" stroke-width="1.0" />
<text x="0" y="0" font-size="7.2" text-anchor="middle" transform="translate(59.6,338.6) rotate(-15)">Control</text>
<line x1="89.6" y1="328.5" x2="89.6" y2="331.0" stroke="#3a3a3a" stroke-width="1.0" />
<text x="0" y="0" font-size="7.2" text-anchor="middle" transform="translate(90.2,340.8) rotate(-15)">5LDH-1SL</text>
<line x1="120.4" y1="328.5" x2="120.4" y2="331.0" stroke="#3a3a3a" stroke-width="1.0" />
<text x="0" y="0" font-size="7.2" text-anchor="middle" transform="translate(121.0,340.8) rotate(-15)">2LDH-1SL</text>
<line x1="150.9" y1="328.5" x2="150.9" y2="331.0" stroke="#3a3a3a" stroke-width="1.0" />
<text x="0" y="0" font-size="7.2" text-anchor="middle" transform="translate(151.5,340.8) rotate(-15)">1LDH-1SL</text>
<text x="0" y="0" font-size="8.4" text-anchor="middle" transform="translate(21.9,260.7) rotate(-90)">Interfacial tension (mN/m)</text>
<text x="-0.4" y="197.5" font-size="17.5" text-anchor="start" >d</text>
<g filter="url(#soft)">
<rect x="210.5" y="186" width="216" height="160" fill="#48b2b2"/>
<rect x="210.5" y="186" width="216" height="160" filter="url(#tealF2)"/>
<rect x="210.5" y="186" width="216" height="160" filter="url(#tealF)"/>
<clipPath id="clE"><rect x="210.5" y="186" width="216" height="160"/></clipPath><g clip-path="url(#clE)">
<circle cx="228.0" cy="236.6" r="3.2" fill="url(#bS)"/>
<circle cx="249.6" cy="236.6" r="3.9" fill="url(#rS)"/>
<circle cx="250.9" cy="237.2" r="3.4" fill="url(#gS)"/>
<circle cx="229.3" cy="237.5" r="3.5" fill="url(#wS)"/>
<circle cx="233.3" cy="237.8" r="3.7" fill="url(#gS)"/>
<circle cx="243.6" cy="239.4" r="3.8" fill="url(#wS)"/>
<circle cx="247.8" cy="242.8" r="3.2" fill="url(#wS)"/>
<circle cx="253.9" cy="243.6" r="3.5" fill="url(#wS)"/>
<circle cx="253.7" cy="244.4" r="3.5" fill="url(#gS)"/>
<circle cx="261.3" cy="244.9" r="3.6" fill="url(#gS)"/>
<circle cx="226.5" cy="245.5" r="3.3" fill="url(#rS)"/>
<circle cx="232.2" cy="245.8" r="3.7" fill="url(#gS)"/>
<circle cx="227.0" cy="246.3" r="4.0" fill="url(#wS)"/>
<circle cx="227.0" cy="247.7" r="3.5" fill="url(#gS)"/>
<circle cx="231.1" cy="248.4" r="3.6" fill="url(#gS)"/>
<circle cx="238.2" cy="248.5" r="3.3" fill="url(#gS)"/>
<circle cx="229.6" cy="248.7" r="3.4" fill="url(#wS)"/>
<circle cx="226.5" cy="248.9" r="3.8" fill="url(#dS)"/>
<circle cx="259.8" cy="249.4" r="3.2" fill="url(#gS)"/>
<circle cx="258.4" cy="249.4" r="4.0" fill="url(#gS)"/>
<circle cx="237.8" cy="249.6" r="4.0" fill="url(#wS)"/>
<circle cx="227.2" cy="251.3" r="3.2" fill="url(#wS)"/>
<circle cx="245.0" cy="252.7" r="4.0" fill="url(#bS)"/>
<circle cx="265.4" cy="253.3" r="3.5" fill="url(#rS)"/>
<circle cx="245.4" cy="253.6" r="3.9" fill="url(#gS)"/>
<circle cx="245.1" cy="253.7" r="3.8" fill="url(#gS)"/>
<circle cx="232.4" cy="254.5" r="3.4" fill="url(#gS)"/>
<circle cx="240.1" cy="254.7" r="3.8" fill="url(#gS)"/>
<circle cx="217.7" cy="255.2" r="3.8" fill="url(#gS)"/>
<circle cx="232.2" cy="255.2" r="3.9" fill="url(#rS)"/>
<circle cx="215.4" cy="255.3" r="3.4" fill="url(#wS)"/>
<circle cx="252.2" cy="255.8" r="3.8" fill="url(#yS)"/>
<circle cx="221.5" cy="256.2" r="4.0" fill="url(#wS)"/>
<circle cx="257.2" cy="256.9" r="3.8" fill="url(#gS)"/>
<circle cx="255.8" cy="257.3" r="3.6" fill="url(#gS)"/>
<circle cx="234.0" cy="258.5" r="3.2" fill="url(#gS)"/>
<circle cx="236.2" cy="258.8" r="3.6" fill="url(#wS)"/>
<circle cx="238.9" cy="259.6" r="3.5" fill="url(#gS)"/>
<circle cx="240.4" cy="259.8" r="3.8" fill="url(#gS)"/>
<circle cx="256.8" cy="261.6" r="3.8" fill="url(#gS)"/>
<circle cx="231.4" cy="262.0" r="3.7" fill="url(#gS)"/>
<circle cx="231.6" cy="262.1" r="3.3" fill="url(#gS)"/>
<circle cx="251.4" cy="262.3" r="3.7" fill="url(#wS)"/>
<circle cx="222.5" cy="263.3" r="3.7" fill="url(#rS)"/>
<circle cx="258.7" cy="263.6" r="3.3" fill="url(#bS)"/>
<circle cx="261.6" cy="264.5" r="4.0" fill="url(#gS)"/>
<circle cx="233.2" cy="265.1" r="3.8" fill="url(#wS)"/>
<circle cx="226.7" cy="265.4" r="3.3" fill="url(#gS)"/>
<circle cx="247.1" cy="265.6" r="4.0" fill="url(#wS)"/>
<circle cx="260.5" cy="266.0" r="3.3" fill="url(#rS)"/>
<circle cx="235.7" cy="266.0" r="3.5" fill="url(#rS)"/>
<circle cx="266.9" cy="268.4" r="3.8" fill="url(#dS)"/>
<circle cx="249.1" cy="269.4" r="3.7" fill="url(#gS)"/>
<circle cx="260.6" cy="269.7" r="3.7" fill="url(#rS)"/>
<circle cx="249.1" cy="269.8" r="3.7" fill="url(#gS)"/>
<circle cx="218.8" cy="270.1" r="3.6" fill="url(#gS)"/>
<circle cx="225.3" cy="271.2" r="3.4" fill="url(#gS)"/>
<circle cx="241.2" cy="271.5" r="3.3" fill="url(#gS)"/>
<circle cx="218.9" cy="272.0" r="3.2" fill="url(#rS)"/>
<circle cx="262.7" cy="273.0" r="3.8" fill="url(#rS)"/>
<circle cx="262.4" cy="273.5" r="3.8" fill="url(#gS)"/>
<circle cx="265.3" cy="273.7" r="3.6" fill="url(#rS)"/>
<circle cx="235.3" cy="273.8" r="3.8" fill="url(#gS)"/>
<circle cx="244.8" cy="274.1" r="3.5" fill="url(#dS)"/>
<circle cx="237.6" cy="274.7" r="3.4" fill="url(#gS)"/>
<circle cx="248.1" cy="274.9" r="3.5" fill="url(#wS)"/>
<circle cx="238.9" cy="275.1" r="4.0" fill="url(#wS)"/>
<circle cx="232.9" cy="275.5" r="3.2" fill="url(#rS)"/>
<circle cx="234.8" cy="276.0" r="3.6" fill="url(#gS)"/>
<circle cx="264.6" cy="276.1" r="3.4" fill="url(#gS)"/>
<circle cx="214.5" cy="276.2" r="3.9" fill="url(#gS)"/>
<circle cx="226.0" cy="276.4" r="3.5" fill="url(#rS)"/>
<circle cx="245.8" cy="277.1" r="3.5" fill="url(#gS)"/>
<circle cx="236.4" cy="277.1" r="3.5" fill="url(#gS)"/>
<circle cx="246.5" cy="277.5" r="3.6" fill="url(#gS)"/>
<circle cx="239.1" cy="278.3" r="3.9" fill="url(#dS)"/>
<circle cx="231.7" cy="278.6" r="3.5" fill="url(#wS)"/>
<circle cx="257.5" cy="279.7" r="3.9" fill="url(#yS)"/>
<circle cx="256.4" cy="280.1" r="3.2" fill="url(#rS)"/>
<circle cx="259.3" cy="280.5" r="3.4" fill="url(#bS)"/>
<circle cx="254.3" cy="280.5" r="3.2" fill="url(#wS)"/>
<circle cx="252.2" cy="280.6" r="3.2" fill="url(#dS)"/>
<circle cx="231.7" cy="282.9" r="3.9" fill="url(#rS)"/>
<circle cx="261.2" cy="283.4" r="3.8" fill="url(#dS)"/>
<circle cx="240.6" cy="283.5" r="3.3" fill="url(#gS)"/>
<circle cx="236.8" cy="283.8" r="3.3" fill="url(#gS)"/>
<circle cx="236.1" cy="283.9" r="3.5" fill="url(#gS)"/>
<circle cx="239.0" cy="283.9" r="3.8" fill="url(#bS)"/>
<circle cx="235.7" cy="284.5" r="3.9" fill="url(#gS)"/>
<circle cx="234.4" cy="284.8" r="3.8" fill="url(#dS)"/>
<circle cx="243.9" cy="284.9" r="3.7" fill="url(#gS)"/>
<circle cx="224.4" cy="285.7" r="3.3" fill="url(#bS)"/>
<circle cx="228.5" cy="287.4" r="3.5" fill="url(#yS)"/>
<circle cx="228.3" cy="289.2" r="3.3" fill="url(#gS)"/>
<circle cx="234.1" cy="289.7" r="3.6" fill="url(#wS)"/>
<circle cx="233.3" cy="289.7" r="3.7" fill="url(#wS)"/>
<circle cx="224.5" cy="289.9" r="3.3" fill="url(#gS)"/>
<circle cx="227.6" cy="290.1" r="3.4" fill="url(#wS)"/>
<circle cx="241.9" cy="290.8" r="3.9" fill="url(#gS)"/>
<circle cx="258.7" cy="291.2" r="3.2" fill="url(#wS)"/>
<circle cx="257.1" cy="291.3" r="3.9" fill="url(#gS)"/>
<circle cx="223.8" cy="291.9" r="4.0" fill="url(#wS)"/>
<circle cx="238.3" cy="292.2" r="4.0" fill="url(#wS)"/>
<circle cx="257.2" cy="292.4" r="3.5" fill="url(#gS)"/>
<circle cx="235.1" cy="293.5" r="3.7" fill="url(#wS)"/>
<circle cx="221.1" cy="294.0" r="3.7" fill="url(#dS)"/>
<circle cx="226.1" cy="294.0" r="3.7" fill="url(#wS)"/>
<circle cx="247.2" cy="294.1" r="4.0" fill="url(#gS)"/>
<circle cx="226.3" cy="294.3" r="3.8" fill="url(#gS)"/>
<circle cx="235.8" cy="295.3" r="3.4" fill="url(#dS)"/>
<circle cx="233.0" cy="296.6" r="3.9" fill="url(#rS)"/>
<circle cx="253.9" cy="298.0" r="3.6" fill="url(#wS)"/>
<circle cx="234.9" cy="298.3" r="3.7" fill="url(#gS)"/>
<circle cx="250.8" cy="298.5" r="3.8" fill="url(#dS)"/>
<circle cx="250.2" cy="298.9" r="3.1" fill="url(#bS)"/>
<circle cx="246.7" cy="299.7" r="3.9" fill="url(#wS)"/>
<circle cx="236.3" cy="300.4" r="3.8" fill="url(#dS)"/>
<circle cx="229.6" cy="301.0" r="3.6" fill="url(#dS)"/>
<circle cx="249.9" cy="301.4" r="3.6" fill="url(#gS)"/>
<circle cx="240.0" cy="302.1" r="3.6" fill="url(#gS)"/>
<circle cx="301.0" cy="247.0" r="4.0" fill="url(#bS)"/>
<circle cx="296.0" cy="246.0" r="4.2" fill="url(#gS)"/>
<circle cx="291.0" cy="251.0" r="4.2" fill="url(#gS)"/>
<circle cx="297.0" cy="253.0" r="4.2" fill="url(#gS)"/>
<circle cx="290.0" cy="258.0" r="4.2" fill="url(#gS)"/>
<circle cx="296.0" cy="259.0" r="4.2" fill="url(#gS)"/>
<circle cx="291.0" cy="264.0" r="4.2" fill="url(#gS)"/>
<circle cx="293.0" cy="266.0" r="4.0" fill="url(#bS)"/>
<circle cx="293.0" cy="267.0" r="3.0" fill="url(#wS)"/>
<circle cx="302.0" cy="246.0" r="2.8" fill="url(#wS)"/>
<circle cx="259.5" cy="315.5" r="4.2" fill="url(#bS)"/>
<circle cx="255.0" cy="318.5" r="4.3" fill="url(#gS)"/>
<circle cx="249.5" cy="321.5" r="4.3" fill="url(#gS)"/>
<circle cx="244.0" cy="324.5" r="4.3" fill="url(#gS)"/>
<circle cx="242.5" cy="326.0" r="4.2" fill="url(#bS)"/>
<circle cx="242.5" cy="326.0" r="3.2" fill="url(#wS)"/>
<circle cx="262.0" cy="190.0" r="2.8" fill="url(#gS)"/>
<circle cx="266.0" cy="193.0" r="2.8" fill="url(#gS)"/>
<circle cx="270.0" cy="190.0" r="2.6" fill="url(#bS)"/>
<g opacity="0.7">
<circle cx="364.0" cy="195.0" r="3.2" fill="url(#wS)"/>
<circle cx="370.0" cy="193.0" r="3.2" fill="url(#wS)"/>
<circle cx="376.0" cy="197.0" r="3.2" fill="url(#wS)"/>
<circle cx="366.0" cy="201.0" r="3.2" fill="url(#wS)"/>
<circle cx="372.0" cy="204.0" r="3.2" fill="url(#wS)"/>
<circle cx="378.0" cy="205.0" r="3.2" fill="url(#wS)"/>
<circle cx="385.0" cy="206.0" r="3.0" fill="url(#bS)"/>
<circle cx="375.0" cy="218.0" r="2.8" fill="url(#bS)"/>
<circle cx="381.0" cy="222.0" r="2.8" fill="url(#dS)"/>
<circle cx="372.0" cy="214.0" r="2.6" fill="url(#wS)"/>
</g>
<g opacity="0.7">
<circle cx="410.0" cy="270.0" r="3.0" fill="url(#wS)"/>
<circle cx="416.0" cy="266.0" r="3.0" fill="url(#wS)"/>
<circle cx="414.0" cy="276.0" r="3.0" fill="url(#wS)"/>
<circle cx="420.0" cy="272.0" r="3.0" fill="url(#wS)"/>
<circle cx="408.0" cy="282.0" r="3.0" fill="url(#wS)"/>
<circle cx="418.0" cy="280.0" r="2.6" fill="url(#rS)"/>
<circle cx="412.0" cy="262.0" r="2.4" fill="url(#bS)"/>
</g>
<circle cx="366.0" cy="297.0" r="2.8" fill="url(#wS)"/>
<circle cx="368.0" cy="303.0" r="2.8" fill="url(#wS)"/>
<circle cx="366.0" cy="309.0" r="2.8" fill="url(#wS)"/>
<circle cx="365.0" cy="293.0" r="2.4" fill="url(#bS)"/>
<circle cx="391.4" cy="315.0" r="3.3" fill="url(#gS)"/>
<circle cx="375.1" cy="316.2" r="3.8" fill="url(#gS)"/>
<circle cx="396.1" cy="316.7" r="3.9" fill="url(#gS)"/>
<circle cx="388.7" cy="316.8" r="3.6" fill="url(#bS)"/>
<circle cx="409.0" cy="317.9" r="3.8" fill="url(#gS)"/>
<circle cx="386.2" cy="318.7" r="3.8" fill="url(#gS)"/>
<circle cx="373.3" cy="319.0" r="3.4" fill="url(#gS)"/>
<circle cx="386.1" cy="319.1" r="3.6" fill="url(#yS)"/>
<circle cx="373.7" cy="320.1" r="4.2" fill="url(#gS)"/>
<circle cx="389.9" cy="320.6" r="3.5" fill="url(#rS)"/>
<circle cx="386.9" cy="320.8" r="3.6" fill="url(#rS)"/>
<circle cx="367.8" cy="321.1" r="3.3" fill="url(#bS)"/>
<circle cx="400.9" cy="321.2" r="3.4" fill="url(#gS)"/>
<circle cx="377.0" cy="322.0" r="3.4" fill="url(#rS)"/>
<circle cx="390.8" cy="322.2" r="4.1" fill="url(#gS)"/>
<circle cx="405.7" cy="322.4" r="3.9" fill="url(#rS)"/>
<circle cx="367.3" cy="323.0" r="4.1" fill="url(#bS)"/>
<circle cx="406.4" cy="324.7" r="4.2" fill="url(#rS)"/>
<circle cx="399.7" cy="324.7" r="3.8" fill="url(#gS)"/>
<circle cx="414.3" cy="324.8" r="4.1" fill="url(#wS)"/>
<circle cx="366.6" cy="324.8" r="3.7" fill="url(#gS)"/>
<circle cx="365.0" cy="325.2" r="3.6" fill="url(#gS)"/>
<circle cx="405.2" cy="325.5" r="4.1" fill="url(#gS)"/>
<circle cx="382.0" cy="325.6" r="4.1" fill="url(#gS)"/>
<circle cx="368.9" cy="326.3" r="4.1" fill="url(#gS)"/>
<circle cx="365.1" cy="326.7" r="3.7" fill="url(#gS)"/>
<circle cx="388.9" cy="326.9" r="4.0" fill="url(#wS)"/>
<circle cx="395.7" cy="327.3" r="3.6" fill="url(#rS)"/>
<circle cx="394.2" cy="327.4" r="4.2" fill="url(#wS)"/>
<circle cx="394.4" cy="328.8" r="4.1" fill="url(#wS)"/>
<circle cx="380.3" cy="328.8" r="3.5" fill="url(#rS)"/>
<circle cx="385.2" cy="329.6" r="4.1" fill="url(#gS)"/>
<circle cx="371.6" cy="329.9" r="3.4" fill="url(#wS)"/>
<circle cx="373.6" cy="331.0" r="3.3" fill="url(#gS)"/>
<circle cx="366.7" cy="331.3" r="3.9" fill="url(#dS)"/>
<circle cx="393.8" cy="333.3" r="3.5" fill="url(#gS)"/>
<circle cx="405.2" cy="333.6" r="3.7" fill="url(#wS)"/>
<circle cx="380.3" cy="333.6" r="3.8" fill="url(#dS)"/>
<circle cx="371.9" cy="334.2" r="3.3" fill="url(#gS)"/>
<circle cx="398.9" cy="334.8" r="3.9" fill="url(#rS)"/>
<circle cx="371.2" cy="334.9" r="3.5" fill="url(#wS)"/>
<circle cx="392.0" cy="335.0" r="3.6" fill="url(#gS)"/>
<circle cx="365.2" cy="335.2" r="3.6" fill="url(#yS)"/>
<circle cx="406.4" cy="338.0" r="3.9" fill="url(#bS)"/>
<circle cx="388.2" cy="338.7" r="3.9" fill="url(#gS)"/>
<circle cx="390.0" cy="338.8" r="3.5" fill="url(#wS)"/>
<circle cx="398.3" cy="339.8" r="3.3" fill="url(#gS)"/>
<circle cx="370.1" cy="339.9" r="3.5" fill="url(#wS)"/>
<circle cx="390.6" cy="340.3" r="3.6" fill="url(#dS)"/>
<circle cx="397.7" cy="340.7" r="3.3" fill="url(#gS)"/>
<circle cx="381.4" cy="342.6" r="3.4" fill="url(#wS)"/>
<circle cx="400.5" cy="342.9" r="4.0" fill="url(#bS)"/>
<circle cx="374.0" cy="343.4" r="3.9" fill="url(#gS)"/>
<circle cx="389.0" cy="343.5" r="4.2" fill="url(#wS)"/>
<circle cx="395.2" cy="344.4" r="4.2" fill="url(#gS)"/>
<circle cx="398.1" cy="344.5" r="4.1" fill="url(#wS)"/>
<circle cx="402.8" cy="344.6" r="3.6" fill="url(#gS)"/>
<circle cx="389.9" cy="344.7" r="3.4" fill="url(#gS)"/>
<circle cx="386.0" cy="345.5" r="3.5" fill="url(#gS)"/>
<circle cx="396.0" cy="345.6" r="3.7" fill="url(#yS)"/>
<rect x="210" y="225" width="75" height="95" fill="#48b2b2" opacity="0.15"/>
<rect x="360" y="310" width="70" height="40" fill="#48b2b2" opacity="0.22"/>
</g></g>
<rect x="208" y="184" width="16" height="164" fill="url(#fadeX)"/>
<rect x="413" y="184" width="15" height="164" fill="url(#fadeXr)"/>
<rect x="208" y="184" width="220" height="9" fill="url(#fadeY)"/>
<rect x="208" y="338" width="220" height="10" fill="url(#fadeYb)"/>
<line x1="398.4" y1="202.2" x2="433.4" y2="202.2" stroke="#111" stroke-width="1.3" />
<text x="435.2" y="206.5" font-size="12.3" text-anchor="start" >N-hexane</text>
<line x1="368.6" y1="307.0" x2="433.4" y2="307.0" stroke="#111" stroke-width="1.3" />
<text x="435.0" y="311.4" font-size="11.6" text-anchor="start" >MPD</text>
<line x1="415.7" y1="333.0" x2="433.4" y2="333.0" stroke="#111" stroke-width="1.3" />
<text x="435.0" y="337.3" font-size="11.6" text-anchor="start" >2LDH-1SL</text>
<text x="199.5" y="198.3" font-size="17.5" text-anchor="start" >e</text>
<rect x="538.2" y="193.5" width="136.8" height="134.2" fill="#d3e9e9"/>
<rect x="538.2" y="193.5" width="136.8" height="134.2" filter="url(#ltF)"/>
<g opacity="0.6">
<circle cx="576.1" cy="223.7" r="3.3" fill="url(#fS)"/>
<circle cx="567.7" cy="224.9" r="3.9" fill="url(#fS)"/>
<circle cx="566.2" cy="227.8" r="3.5" fill="url(#fS)"/>
<circle cx="577.9" cy="229.8" r="3.3" fill="url(#fS)"/>
<circle cx="567.5" cy="230.7" r="3.5" fill="url(#fS)"/>
<circle cx="559.0" cy="230.9" r="3.2" fill="url(#fS)"/>
<circle cx="570.3" cy="231.1" r="3.6" fill="url(#fP)"/>
<circle cx="582.7" cy="232.3" r="3.5" fill="url(#fP)"/>
<circle cx="565.3" cy="232.8" r="3.3" fill="url(#fS)"/>
<circle cx="588.6" cy="234.3" r="3.8" fill="url(#fS)"/>
<circle cx="570.1" cy="235.2" r="3.8" fill="url(#fS)"/>
<circle cx="571.7" cy="236.3" r="3.1" fill="url(#fS)"/>
<circle cx="569.0" cy="238.0" r="3.5" fill="url(#fS)"/>
<circle cx="581.6" cy="238.2" r="3.3" fill="url(#fS)"/>
<circle cx="572.1" cy="238.7" r="3.9" fill="url(#fS)"/>
<circle cx="589.5" cy="239.1" r="3.8" fill="url(#fS)"/>
<circle cx="574.9" cy="239.9" r="3.3" fill="url(#fS)"/>
<circle cx="580.5" cy="241.2" r="3.3" fill="url(#fS)"/>
<circle cx="590.6" cy="241.4" r="3.2" fill="url(#fP)"/>
<circle cx="555.8" cy="241.4" r="3.9" fill="url(#fS)"/>
<circle cx="591.6" cy="241.6" r="3.3" fill="url(#fS)"/>
<circle cx="577.6" cy="242.0" r="3.6" fill="url(#fP)"/>
<circle cx="585.1" cy="242.8" r="3.5" fill="url(#fS)"/>
<circle cx="558.2" cy="243.4" r="3.6" fill="url(#fB)"/>
<circle cx="592.8" cy="243.5" r="3.6" fill="url(#fB)"/>
<circle cx="571.1" cy="245.8" r="3.7" fill="url(#fS)"/>
<circle cx="558.7" cy="246.8" r="3.2" fill="url(#fS)"/>
<circle cx="564.4" cy="247.5" r="3.7" fill="url(#fB)"/>
<circle cx="580.2" cy="248.0" r="3.3" fill="url(#fP)"/>
<circle cx="553.5" cy="248.1" r="3.5" fill="url(#fS)"/>
<circle cx="553.8" cy="248.5" r="3.4" fill="url(#fS)"/>
<circle cx="586.4" cy="249.0" r="3.3" fill="url(#fS)"/>
<circle cx="571.0" cy="249.4" r="3.5" fill="url(#fP)"/>
<circle cx="593.2" cy="249.8" r="3.5" fill="url(#fS)"/>
<circle cx="592.2" cy="251.0" r="3.4" fill="url(#fS)"/>
<circle cx="593.4" cy="251.8" r="3.7" fill="url(#fS)"/>
<circle cx="556.0" cy="252.4" r="3.6" fill="url(#fS)"/>
<circle cx="552.5" cy="252.5" r="3.1" fill="url(#fS)"/>
<circle cx="577.7" cy="254.9" r="3.3" fill="url(#fS)"/>
<circle cx="562.0" cy="255.1" r="3.5" fill="url(#fP)"/>
<circle cx="590.4" cy="255.2" r="3.9" fill="url(#fS)"/>
<circle cx="564.7" cy="255.6" r="3.9" fill="url(#fS)"/>
<circle cx="575.8" cy="256.2" r="3.6" fill="url(#fS)"/>
<circle cx="592.3" cy="256.9" r="3.1" fill="url(#fS)"/>
<circle cx="591.7" cy="258.1" r="3.8" fill="url(#fS)"/>
<circle cx="576.4" cy="258.9" r="3.4" fill="url(#fS)"/>
<circle cx="574.6" cy="259.6" r="3.6" fill="url(#fS)"/>
<circle cx="561.2" cy="260.0" r="3.7" fill="url(#fS)"/>
<circle cx="558.3" cy="260.2" r="3.6" fill="url(#fB)"/>
<circle cx="591.5" cy="260.3" r="3.5" fill="url(#fB)"/>
<circle cx="584.3" cy="260.3" r="3.9" fill="url(#fS)"/>
<circle cx="572.0" cy="260.3" r="3.4" fill="url(#fP)"/>
<circle cx="572.2" cy="261.1" r="3.4" fill="url(#fS)"/>
<circle cx="579.1" cy="262.8" r="3.8" fill="url(#fP)"/>
<circle cx="578.2" cy="263.1" r="3.2" fill="url(#fP)"/>
<circle cx="560.3" cy="263.8" r="3.3" fill="url(#fP)"/>
<circle cx="579.9" cy="264.0" r="3.8" fill="url(#fS)"/>
<circle cx="578.2" cy="264.8" r="3.1" fill="url(#fS)"/>
<circle cx="585.0" cy="264.8" r="3.8" fill="url(#fS)"/>
<circle cx="574.0" cy="264.9" r="3.7" fill="url(#fS)"/>
<circle cx="578.5" cy="265.6" r="3.4" fill="url(#fS)"/>
<circle cx="558.7" cy="266.0" r="3.3" fill="url(#fS)"/>
<circle cx="583.4" cy="266.1" r="3.8" fill="url(#fP)"/>
<circle cx="579.2" cy="266.1" r="3.9" fill="url(#fS)"/>
<circle cx="569.6" cy="266.9" r="3.2" fill="url(#fS)"/>
<circle cx="559.0" cy="268.2" r="3.5" fill="url(#fP)"/>
<circle cx="572.7" cy="268.3" r="3.6" fill="url(#fS)"/>
<circle cx="566.7" cy="268.5" r="3.5" fill="url(#fP)"/>
<circle cx="583.5" cy="268.6" r="3.4" fill="url(#fS)"/>
<circle cx="584.8" cy="269.8" r="3.2" fill="url(#fS)"/>
<circle cx="578.4" cy="271.1" r="3.6" fill="url(#fS)"/>
<circle cx="563.7" cy="272.5" r="3.8" fill="url(#fP)"/>
<circle cx="571.6" cy="273.9" r="3.1" fill="url(#fS)"/>
<circle cx="575.7" cy="274.7" r="3.3" fill="url(#fB)"/>
<circle cx="576.4" cy="274.7" r="3.8" fill="url(#fP)"/>
</g>
<circle cx="628.0" cy="209.0" r="3.4" fill="url(#fB)"/>
<circle cx="633.0" cy="207.0" r="3.4" fill="url(#fB)"/>
<circle cx="638.0" cy="205.0" r="3.4" fill="url(#fB)"/>
<circle cx="618.0" cy="310.0" r="3.2" fill="url(#fB)"/>
<circle cx="615.0" cy="314.0" r="3.2" fill="url(#fB)"/>
<circle cx="618.0" cy="319.0" r="3.2" fill="url(#fB)"/>
<circle cx="614.0" cy="323.0" r="3.2" fill="url(#fB)"/>
<path d="M538.0,328.1 C540.0,326.2 546.0,320.9 550.0,317.0 C554.0,313.1 557.8,308.7 562.0,305.0 C566.2,301.3 570.7,298.2 575.0,295.0 C579.3,291.8 583.4,288.8 587.6,285.9 C591.8,283.0 596.3,280.2 600.0,277.5 C603.7,274.8 606.7,272.6 610.0,269.9 C613.3,267.1 616.8,263.9 620.0,261.0 C623.2,258.1 625.9,255.3 629.3,252.2 C632.7,249.1 637.9,245.4 640.5,242.6 C643.1,239.8 643.4,237.9 645.0,235.5 C646.6,233.1 648.2,230.0 650.0,228.2 C651.8,226.4 654.1,225.8 656.0,224.5 C657.9,223.2 659.8,221.7 661.3,220.2 C662.8,218.7 663.8,217.0 665.0,215.5 C666.2,214.0 667.0,212.2 668.3,211.3 C669.5,210.4 671.3,211.1 672.5,210.0 C673.7,208.9 675.0,205.8 675.5,205.0" fill="none" stroke="#2a84cc" stroke-width="1.4"/>
<path d="M538.0,328.1 C540.0,326.6 546.3,321.9 550.0,319.0 C553.7,316.1 556.4,313.6 560.0,311.0 C563.6,308.4 567.4,306.0 571.6,303.5 C575.8,301.0 581.1,298.2 585.0,296.0 C588.9,293.8 591.4,292.1 595.0,290.2 C598.6,288.2 602.6,286.5 606.8,284.3 C611.0,282.1 615.2,279.8 620.0,277.0 C624.8,274.2 631.5,270.2 635.7,267.6 C639.9,265.0 642.3,263.3 645.0,261.5 C647.7,259.7 649.5,258.8 651.7,257.0 C653.9,255.2 655.9,253.1 658.0,251.0 C660.1,248.9 662.8,246.0 664.5,244.2 C666.2,242.4 666.9,241.3 668.0,240.0 C669.1,238.7 669.6,238.0 670.9,236.2 C672.1,234.4 674.7,230.4 675.5,229.2" fill="none" stroke="#1a8c3a" stroke-width="1.4"/>
<line x1="546.0" y1="203.1" x2="557.7" y2="203.1" stroke="#2a84cc" stroke-width="1.3" />
<text x="559.6" y="205.8" font-size="7.5" text-anchor="start" >Control</text>
<line x1="546.0" y1="212.5" x2="557.7" y2="212.5" stroke="#1a8c3a" stroke-width="1.3" />
<text x="559.6" y="215.2" font-size="7.5" text-anchor="start" >2LDH-1SL</text>
<rect x="537.6" y="192.9" width="138.0" height="135.4" fill="none" stroke="#3a3a3a" stroke-width="1.3"/>
<line x1="535.1" y1="328.3" x2="537.6" y2="328.3" stroke="#3a3a3a" stroke-width="1.1" />
<text x="533.9" y="331.1" font-size="7.8" text-anchor="end" >0</text>
<line x1="535.1" y1="305.7" x2="537.6" y2="305.7" stroke="#3a3a3a" stroke-width="1.1" />
<text x="533.9" y="308.5" font-size="7.8" text-anchor="end" >100</text>
<line x1="535.1" y1="283.2" x2="537.6" y2="283.2" stroke="#3a3a3a" stroke-width="1.1" />
<text x="533.9" y="286.0" font-size="7.8" text-anchor="end" >200</text>
<line x1="535.1" y1="260.6" x2="537.6" y2="260.6" stroke="#3a3a3a" stroke-width="1.1" />
<text x="533.9" y="263.4" font-size="7.8" text-anchor="end" >300</text>
<line x1="535.1" y1="238.0" x2="537.6" y2="238.0" stroke="#3a3a3a" stroke-width="1.1" />
<text x="533.9" y="240.8" font-size="7.8" text-anchor="end" >400</text>
<line x1="535.1" y1="215.4" x2="537.6" y2="215.4" stroke="#3a3a3a" stroke-width="1.1" />
<text x="533.9" y="218.2" font-size="7.8" text-anchor="end" >500</text>
<line x1="535.1" y1="192.9" x2="537.6" y2="192.9" stroke="#3a3a3a" stroke-width="1.1" />
<text x="533.9" y="195.7" font-size="7.8" text-anchor="end" >600</text>
<line x1="536.1" y1="317.0" x2="537.6" y2="317.0" stroke="#3a3a3a" stroke-width="1.0" />
<line x1="536.1" y1="294.4" x2="537.6" y2="294.4" stroke="#3a3a3a" stroke-width="1.0" />
<line x1="536.1" y1="271.9" x2="537.6" y2="271.9" stroke="#3a3a3a" stroke-width="1.0" />
<line x1="536.1" y1="249.3" x2="537.6" y2="249.3" stroke="#3a3a3a" stroke-width="1.0" />
<line x1="536.1" y1="226.7" x2="537.6" y2="226.7" stroke="#3a3a3a" stroke-width="1.0" />
<line x1="536.1" y1="204.2" x2="537.6" y2="204.2" stroke="#3a3a3a" stroke-width="1.0" />
<line x1="537.9" y1="328.3" x2="537.9" y2="330.8" stroke="#3a3a3a" stroke-width="1.1" />
<text x="537.9" y="338.3" font-size="7.8" text-anchor="middle" >0</text>
<line x1="572.3" y1="328.3" x2="572.3" y2="330.8" stroke="#3a3a3a" stroke-width="1.1" />
<text x="572.3" y="338.3" font-size="7.8" text-anchor="middle" >10000</text>
<line x1="606.8" y1="328.3" x2="606.8" y2="330.8" stroke="#3a3a3a" stroke-width="1.1" />
<text x="606.8" y="338.3" font-size="7.8" text-anchor="middle" >20000</text>
<line x1="641.2" y1="328.3" x2="641.2" y2="330.8" stroke="#3a3a3a" stroke-width="1.1" />
<text x="641.2" y="338.3" font-size="7.8" text-anchor="middle" >30000</text>
<line x1="675.6" y1="328.3" x2="675.6" y2="330.8" stroke="#3a3a3a" stroke-width="1.1" />
<text x="675.6" y="338.3" font-size="7.8" text-anchor="middle" >40000</text>
<line x1="555.1" y1="328.3" x2="555.1" y2="329.8" stroke="#3a3a3a" stroke-width="1.0" />
<line x1="589.5" y1="328.3" x2="589.5" y2="329.8" stroke="#3a3a3a" stroke-width="1.0" />
<line x1="624.0" y1="328.3" x2="624.0" y2="329.8" stroke="#3a3a3a" stroke-width="1.0" />
<line x1="658.4" y1="328.3" x2="658.4" y2="329.8" stroke="#3a3a3a" stroke-width="1.0" />
<text x="0" y="0" font-size="8.5" text-anchor="middle" transform="translate(520.0,260.4) rotate(-90)">Mean square displacement (nm<tspan dy="-3" font-size="6">2</tspan><tspan dy="3">)</tspan></text>
<text x="607.6" y="352.0" font-size="9" text-anchor="middle" >Time  (ps)</text>
<text x="501.5" y="197.5" font-size="17.5" text-anchor="start" >f</text>
<text x="0.0" y="391.6" font-size="17.5" text-anchor="start" >g</text>
<path d="M48.7,458 L108,441 L108,476.1 Z" fill="url(#cone)"/>
<g fill="none" stroke="#f0c020" stroke-width="1.1"><path d="M41,462 C38,459 38,452 43.5,451.5 C49,452 49,459 46,462 Z"/><path d="M41.3,463.5 H45.7 M41.5,465 H45.5 M42.5,458 L43.5,461 L44.5,458"/></g>
<text x="91.0" y="458.0" font-size="9.3" text-anchor="middle" >UV-light</text>
<text x="89.8" y="466.3" font-size="9.3" text-anchor="middle" >294 nm</text>
<path d="M142.3,403 L149.2,392.3 L149.2,505.4 L141.8,517 Z" fill="#e6edf2"/>
<path d="M142.3,439.2 L149.2,431.6 L149.2,468 L142.3,478 Z" fill="#dcb2cd"/>
<path d="M142.3,478 C145,474 147,470 149.2,467.5 L149.2,506 L142,517 Z" fill="#58b2da"/>
<path d="M107.8,403 L114.7,392.3 L149.2,392.3 L142.3,403 Z" fill="#e3edf2"/>
<rect x="107.8" y="403" width="34.5" height="114" fill="#f2f5f7"/>
<path d="M107.8,439.2 L114.7,431.6 L149.2,431.6 L142.3,439.2 Z" fill="#f5e2ec"/>
<rect x="107.8" y="439.2" width="34.5" height="38.4" fill="url(#pinkT)"/>
<rect x="115.8" y="440.5" width="24.4" height="25" fill="#ecc9dc"/>
<rect x="107.8" y="477.6" width="34.5" height="39.4" fill="url(#blueT)"/>
<rect x="115.8" y="479" width="24.4" height="27" fill="#c2e2f0" opacity="0.7"/>
<path d="M107.8,506 L142.3,506 L142.3,517 L107.8,517 Z" fill="#88c6e2" opacity="0.6"/>
<path d="M115.8,403 V517" stroke="#d0d8de" stroke-width="0.6" fill="none"/>
<path d="M107.8,403 L114.7,392.3 L114.7,403 Z" fill="#dbe8ef"/>
<path d="M114.7,392.3 L114.7,403" stroke="#3e3a39" stroke-width="1.1" fill="none"/>
<path d="M119.3,403 L131.1,403 L125,420.3 Z" fill="#dbe6ec" stroke="#3e3a39" stroke-width="0.9"/>
<path d="M107.8,514 L107.8,403 L114.7,392.3 L149.2,392.3 L149.2,505.4 L141.8,517 L110.8,517 Q107.8,517 107.8,514 Z M107.8,403 L142.3,403 L149.2,392.3 M142.3,403 L142.3,517" fill="none" stroke="#3e3a39" stroke-width="1.3" stroke-linejoin="round"/>
<linearGradient id="arrG" x1="0" y1="0" x2="0" y2="1"><stop offset="0" stop-color="#e4007f"/><stop offset="0.6" stop-color="#e4007f"/><stop offset="1" stop-color="#f6a9cf"/></linearGradient>
<path d="M125.3,467.1 L129.7,474.5 L127.6,474.5 L129.7,478.5 L127.4,478.5 L127.4,486 L123.2,486 L123.2,478.5 L120.9,478.5 L123,474.5 L120.9,474.5 Z" fill="url(#arrG)"/>
<path d="M127.9,493.4 L131.1,488.8 M122.3,501.4 L126.4,507.2" stroke="#8a8a8a" stroke-width="1.3"/>
<path d="M123.3,490.2 L127.9,493.4 L127.4,499.0 L122.3,501.4 L117.7,498.2 L118.2,492.6 Z" fill="none" stroke="#7a7a7a" stroke-width="2.1"/>
<path d="M123.3,490.2 L127.9,493.4 L127.4,499.0 L122.3,501.4 L117.7,498.2 L118.2,492.6 Z" fill="none" stroke="#c9c9c9" stroke-width="0.7"/>
<circle cx="121.4" cy="486.6" r="1.0" fill="#f4f4f4" stroke="#aaa" stroke-width="0.3"/>
<circle cx="113.8" cy="494" r="1.0" fill="#f4f4f4" stroke="#aaa" stroke-width="0.3"/>
<circle cx="116.5" cy="503.9" r="1.0" fill="#f4f4f4" stroke="#aaa" stroke-width="0.3"/>
<circle cx="133.8" cy="499" r="1.0" fill="#f4f4f4" stroke="#aaa" stroke-width="0.3"/>
<circle cx="135.2" cy="489.6" r="1.0" fill="#f4f4f4" stroke="#aaa" stroke-width="0.3"/>
<circle cx="130.8" cy="507.7" r="1.0" fill="#f4f4f4" stroke="#aaa" stroke-width="0.3"/>
<circle cx="123.7" cy="510" r="1.0" fill="#f4f4f4" stroke="#aaa" stroke-width="0.3"/>
<circle cx="131.1" cy="488.8" r="1.6" fill="#2a46b0"/><circle cx="126.4" cy="507.2" r="1.6" fill="#2a46b0"/>
<line x1="133.0" y1="463.6" x2="164.0" y2="463.6" stroke="#111" stroke-width="1.1" />
<text x="166.6" y="467.0" font-size="9.55" text-anchor="start" >Organic phase</text>
<line x1="133.0" y1="477.6" x2="164.0" y2="477.6" stroke="#111" stroke-width="1.1" />
<text x="166.6" y="481.0" font-size="9.55" text-anchor="start" >Aqueous-organic interface</text>
<line x1="128.7" y1="492.7" x2="164.0" y2="492.7" stroke="#111" stroke-width="1.1" />
<text x="166.6" y="495.1" font-size="9.55" text-anchor="start" >MPD</text>
<line x1="133.0" y1="506.8" x2="164.0" y2="506.8" stroke="#111" stroke-width="1.1" />
<text x="166.6" y="510.0" font-size="9.55" text-anchor="start" >Aqueous phase</text>
<path d="M346.0,497.7 C346.8,497.4 349.3,496.4 350.9,495.7 C352.6,495.1 354.2,494.5 355.9,493.8 C357.5,493.2 359.2,492.6 360.9,492.0 C362.5,491.4 364.2,490.8 365.8,490.2 C367.4,489.6 369.1,489.0 370.8,488.5 C372.4,487.9 374.1,487.3 375.7,486.8 C377.3,486.2 379.0,485.7 380.6,485.2 C382.3,484.6 384.0,484.1 385.6,483.6 C387.2,483.1 388.9,482.5 390.6,482.0 C392.2,481.5 393.9,481.1 395.5,480.6 C397.1,480.1 398.8,479.6 400.4,479.1 C402.1,478.7 403.8,478.2 405.4,477.8 C407.0,477.3 408.7,476.9 410.4,476.4 C412.0,476.0 413.7,475.6 415.3,475.2 C416.9,474.8 418.6,474.4 420.2,474.0 C421.9,473.6 423.6,473.2 425.2,472.8 C426.8,472.4 428.5,472.0 430.1,471.7 C431.8,471.3 433.5,471.0 435.1,470.6 C436.8,470.3 438.4,469.9 440.1,469.6 C441.7,469.3 443.4,469.0 445.0,468.7 C446.6,468.4 448.3,468.1 449.9,467.8 C451.6,467.5 453.2,467.2 454.9,466.9 C456.5,466.6 458.2,466.4 459.9,466.1 C461.5,465.9 464.0,465.5 464.8,465.4" fill="none" stroke="#6f9fd0" stroke-width="0.9"/>
<rect x="344.2" y="497.6" width="3.6" height="3.6" fill="#6f9fd0" fill-opacity="0.45" stroke="#6f9fd0" stroke-width="0.8"/>
<rect x="354.1" y="491.0" width="3.6" height="3.6" fill="#6f9fd0" fill-opacity="0.45" stroke="#6f9fd0" stroke-width="0.8"/>
<rect x="364.0" y="486.7" width="3.6" height="3.6" fill="#6f9fd0" fill-opacity="0.45" stroke="#6f9fd0" stroke-width="0.8"/>
<rect x="373.9" y="484.7" width="3.6" height="3.6" fill="#6f9fd0" fill-opacity="0.45" stroke="#6f9fd0" stroke-width="0.8"/>
<rect x="383.8" y="482.4" width="3.6" height="3.6" fill="#6f9fd0" fill-opacity="0.45" stroke="#6f9fd0" stroke-width="0.8"/>
<rect x="393.7" y="479.0" width="3.6" height="3.6" fill="#6f9fd0" fill-opacity="0.45" stroke="#6f9fd0" stroke-width="0.8"/>
<rect x="403.6" y="477.0" width="3.6" height="3.6" fill="#6f9fd0" fill-opacity="0.45" stroke="#6f9fd0" stroke-width="0.8"/>
<rect x="413.5" y="473.0" width="3.6" height="3.6" fill="#6f9fd0" fill-opacity="0.45" stroke="#6f9fd0" stroke-width="0.8"/>
<rect x="423.4" y="471.0" width="3.6" height="3.6" fill="#6f9fd0" fill-opacity="0.45" stroke="#6f9fd0" stroke-width="0.8"/>
<rect x="433.3" y="468.9" width="3.6" height="3.6" fill="#6f9fd0" fill-opacity="0.45" stroke="#6f9fd0" stroke-width="0.8"/>
<rect x="443.2" y="466.9" width="3.6" height="3.6" fill="#6f9fd0" fill-opacity="0.45" stroke="#6f9fd0" stroke-width="0.8"/>
<rect x="453.1" y="465.2" width="3.6" height="3.6" fill="#6f9fd0" fill-opacity="0.45" stroke="#6f9fd0" stroke-width="0.8"/>
<rect x="463.0" y="463.2" width="3.6" height="3.6" fill="#6f9fd0" fill-opacity="0.45" stroke="#6f9fd0" stroke-width="0.8"/>
<path d="M346.0,489.8 C346.8,489.6 349.3,488.8 350.9,488.3 C352.6,487.8 354.2,487.3 355.9,486.8 C357.5,486.3 359.2,485.8 360.9,485.3 C362.5,484.8 364.2,484.4 365.8,483.9 C367.4,483.4 369.1,482.9 370.8,482.5 C372.4,482.0 374.1,481.5 375.7,481.0 C377.3,480.6 379.0,480.1 380.6,479.7 C382.3,479.2 384.0,478.8 385.6,478.3 C387.2,477.9 388.9,477.4 390.6,477.0 C392.2,476.5 393.9,476.1 395.5,475.7 C397.1,475.2 398.8,474.8 400.4,474.4 C402.1,473.9 403.8,473.5 405.4,473.1 C407.0,472.7 408.7,472.3 410.4,471.9 C412.0,471.4 413.7,471.0 415.3,470.6 C416.9,470.2 418.6,469.8 420.2,469.4 C421.9,469.0 423.6,468.6 425.2,468.3 C426.8,467.9 428.5,467.5 430.1,467.1 C431.8,466.7 433.5,466.4 435.1,466.0 C436.8,465.6 438.4,465.2 440.1,464.9 C441.7,464.5 443.4,464.1 445.0,463.8 C446.6,463.4 448.3,463.1 449.9,462.7 C451.6,462.4 453.2,462.0 454.9,461.7 C456.5,461.4 458.2,461.0 459.9,460.7 C461.5,460.3 464.0,459.9 464.8,459.7" fill="none" stroke="#5fae74" stroke-width="0.9"/>
<circle cx="346.0" cy="489.7" r="2.0" fill="#5fae74" fill-opacity="0.75" stroke="#5fae74" stroke-width="0.6"/>
<circle cx="355.9" cy="487.4" r="2.0" fill="#5fae74" fill-opacity="0.75" stroke="#5fae74" stroke-width="0.6"/>
<circle cx="365.8" cy="483.9" r="2.0" fill="#5fae74" fill-opacity="0.75" stroke="#5fae74" stroke-width="0.6"/>
<circle cx="375.7" cy="480.5" r="2.0" fill="#5fae74" fill-opacity="0.75" stroke="#5fae74" stroke-width="0.6"/>
<circle cx="385.6" cy="477.9" r="2.0" fill="#5fae74" fill-opacity="0.75" stroke="#5fae74" stroke-width="0.6"/>
<circle cx="395.5" cy="475.6" r="2.0" fill="#5fae74" fill-opacity="0.75" stroke="#5fae74" stroke-width="0.6"/>
<circle cx="405.4" cy="473.6" r="2.0" fill="#5fae74" fill-opacity="0.75" stroke="#5fae74" stroke-width="0.6"/>
<circle cx="415.3" cy="471.3" r="2.0" fill="#5fae74" fill-opacity="0.75" stroke="#5fae74" stroke-width="0.6"/>
<circle cx="425.2" cy="467.9" r="2.0" fill="#5fae74" fill-opacity="0.75" stroke="#5fae74" stroke-width="0.6"/>
<circle cx="435.1" cy="465.9" r="2.0" fill="#5fae74" fill-opacity="0.75" stroke="#5fae74" stroke-width="0.6"/>
<circle cx="445.0" cy="463.6" r="2.0" fill="#5fae74" fill-opacity="0.75" stroke="#5fae74" stroke-width="0.6"/>
<circle cx="454.9" cy="461.6" r="2.0" fill="#5fae74" fill-opacity="0.75" stroke="#5fae74" stroke-width="0.6"/>
<circle cx="464.8" cy="459.9" r="2.0" fill="#5fae74" fill-opacity="0.75" stroke="#5fae74" stroke-width="0.6"/>
<path d="M346.0,472.0 C346.8,471.5 349.3,469.9 350.9,468.9 C352.6,467.9 354.2,466.8 355.9,465.8 C357.5,464.8 359.2,463.8 360.9,462.8 C362.5,461.8 364.2,460.8 365.8,459.8 C367.4,458.8 369.1,457.8 370.8,456.8 C372.4,455.8 374.1,454.8 375.7,453.9 C377.3,452.9 379.0,451.9 380.6,451.0 C382.3,450.0 384.0,449.1 385.6,448.1 C387.2,447.2 388.9,446.2 390.6,445.3 C392.2,444.3 393.9,443.4 395.5,442.5 C397.1,441.5 398.8,440.6 400.4,439.7 C402.1,438.8 403.8,437.9 405.4,437.0 C407.0,436.1 408.7,435.2 410.4,434.3 C412.0,433.4 413.7,432.5 415.3,431.6 C416.9,430.7 418.6,429.8 420.2,429.0 C421.9,428.1 423.6,427.2 425.2,426.4 C426.8,425.5 428.5,424.6 430.1,423.8 C431.8,422.9 433.5,422.1 435.1,421.3 C436.8,420.4 438.4,419.6 440.1,418.8 C441.7,417.9 443.4,417.1 445.0,416.3 C446.6,415.5 448.3,414.7 449.9,413.9 C451.6,413.0 453.2,412.2 454.9,411.5 C456.5,410.7 458.2,409.9 459.9,409.1 C461.5,408.3 464.0,407.1 464.8,406.8" fill="none" stroke="#f0a066" stroke-width="0.9"/>
<path d="M346.0,469.0 L348.2,473.0 L343.8,473.0 Z" fill="#f0a066" fill-opacity="0.75" stroke="#f0a066" stroke-width="0.6"/>
<path d="M355.9,463.3 L358.1,467.3 L353.7,467.3 Z" fill="#f0a066" fill-opacity="0.75" stroke="#f0a066" stroke-width="0.6"/>
<path d="M365.8,457.6 L368.0,461.6 L363.6,461.6 Z" fill="#f0a066" fill-opacity="0.75" stroke="#f0a066" stroke-width="0.6"/>
<path d="M375.7,452.1 L377.9,456.1 L373.5,456.1 Z" fill="#f0a066" fill-opacity="0.75" stroke="#f0a066" stroke-width="0.6"/>
<path d="M385.6,446.7 L387.8,450.7 L383.4,450.7 Z" fill="#f0a066" fill-opacity="0.75" stroke="#f0a066" stroke-width="0.6"/>
<path d="M395.5,440.4 L397.7,444.4 L393.3,444.4 Z" fill="#f0a066" fill-opacity="0.75" stroke="#f0a066" stroke-width="0.6"/>
<path d="M405.4,435.5 L407.6,439.5 L403.2,439.5 Z" fill="#f0a066" fill-opacity="0.75" stroke="#f0a066" stroke-width="0.6"/>
<path d="M415.3,429.5 L417.5,433.5 L413.1,433.5 Z" fill="#f0a066" fill-opacity="0.75" stroke="#f0a066" stroke-width="0.6"/>
<path d="M425.2,423.2 L427.4,427.2 L423.0,427.2 Z" fill="#f0a066" fill-opacity="0.75" stroke="#f0a066" stroke-width="0.6"/>
<path d="M435.1,417.8 L437.3,421.8 L432.9,421.8 Z" fill="#f0a066" fill-opacity="0.75" stroke="#f0a066" stroke-width="0.6"/>
<path d="M445.0,412.6 L447.2,416.6 L442.8,416.6 Z" fill="#f0a066" fill-opacity="0.75" stroke="#f0a066" stroke-width="0.6"/>
<path d="M454.9,409.2 L457.1,413.2 L452.7,413.2 Z" fill="#f0a066" fill-opacity="0.75" stroke="#f0a066" stroke-width="0.6"/>
<path d="M464.8,406.0 L467.0,410.0 L462.6,410.0 Z" fill="#f0a066" fill-opacity="0.75" stroke="#f0a066" stroke-width="0.6"/>
<path d="M346.0,468.0 C346.8,467.4 349.3,465.7 350.9,464.6 C352.6,463.5 354.2,462.4 355.9,461.3 C357.5,460.2 359.2,459.2 360.9,458.1 C362.5,457.0 364.2,455.9 365.8,454.9 C367.4,453.8 369.1,452.8 370.8,451.7 C372.4,450.7 374.1,449.7 375.7,448.6 C377.3,447.6 379.0,446.6 380.6,445.6 C382.3,444.6 384.0,443.5 385.6,442.5 C387.2,441.5 388.9,440.6 390.6,439.6 C392.2,438.6 393.9,437.6 395.5,436.6 C397.1,435.7 398.8,434.7 400.4,433.8 C402.1,432.8 403.8,431.9 405.4,430.9 C407.0,430.0 408.7,429.0 410.4,428.1 C412.0,427.2 413.7,426.3 415.3,425.4 C416.9,424.5 418.6,423.6 420.2,422.7 C421.9,421.8 423.6,420.9 425.2,420.0 C426.8,419.1 428.5,418.3 430.1,417.4 C431.8,416.5 433.5,415.7 435.1,414.8 C436.8,414.0 438.4,413.1 440.1,412.3 C441.7,411.5 443.4,410.6 445.0,409.8 C446.6,409.0 448.3,408.2 449.9,407.4 C451.6,406.6 453.2,405.8 454.9,405.0 C456.5,404.2 458.2,403.4 459.9,402.6 C461.5,401.9 464.0,400.7 464.8,400.3" fill="none" stroke="#e5737a" stroke-width="0.9"/>
<path d="M346.0,468.5 L348.3,464.5 L343.7,464.5 Z" fill="#e5737a" fill-opacity="0.3" stroke="#e5737a" stroke-width="0.8"/>
<path d="M355.9,463.0 L358.2,459.0 L353.6,459.0 Z" fill="#e5737a" fill-opacity="0.3" stroke="#e5737a" stroke-width="0.8"/>
<path d="M365.8,458.2 L368.1,454.2 L363.5,454.2 Z" fill="#e5737a" fill-opacity="0.3" stroke="#e5737a" stroke-width="0.8"/>
<path d="M375.7,453.0 L378.0,449.0 L373.4,449.0 Z" fill="#e5737a" fill-opacity="0.3" stroke="#e5737a" stroke-width="0.8"/>
<path d="M385.6,445.8 L387.9,441.8 L383.3,441.8 Z" fill="#e5737a" fill-opacity="0.3" stroke="#e5737a" stroke-width="0.8"/>
<path d="M395.5,439.8 L397.8,435.8 L393.2,435.8 Z" fill="#e5737a" fill-opacity="0.3" stroke="#e5737a" stroke-width="0.8"/>
<path d="M405.4,433.5 L407.7,429.5 L403.1,429.5 Z" fill="#e5737a" fill-opacity="0.3" stroke="#e5737a" stroke-width="0.8"/>
<path d="M415.3,428.4 L417.6,424.4 L413.0,424.4 Z" fill="#e5737a" fill-opacity="0.3" stroke="#e5737a" stroke-width="0.8"/>
<path d="M425.2,419.8 L427.5,415.8 L422.9,415.8 Z" fill="#e5737a" fill-opacity="0.3" stroke="#e5737a" stroke-width="0.8"/>
<path d="M435.1,414.0 L437.4,410.0 L432.8,410.0 Z" fill="#e5737a" fill-opacity="0.3" stroke="#e5737a" stroke-width="0.8"/>
<path d="M445.0,412.0 L447.3,408.0 L442.7,408.0 Z" fill="#e5737a" fill-opacity="0.3" stroke="#e5737a" stroke-width="0.8"/>
<path d="M454.9,407.2 L457.2,403.2 L452.6,403.2 Z" fill="#e5737a" fill-opacity="0.3" stroke="#e5737a" stroke-width="0.8"/>
<path d="M464.8,404.9 L467.1,400.9 L462.5,400.9 Z" fill="#e5737a" fill-opacity="0.3" stroke="#e5737a" stroke-width="0.8"/>
<rect x="340.5" y="390.9" width="3.6" height="3.6" fill="#6f9fd0" fill-opacity="0.45" stroke="#6f9fd0" stroke-width="0.8"/>
<text x="349.6" y="395.3" font-size="7.5" text-anchor="start" >Control</text>
<circle cx="342.3" cy="401.9" r="2.0" fill="#5fae74" fill-opacity="0.75" stroke="#5fae74" stroke-width="0.6"/>
<text x="349.6" y="404.5" font-size="7.5" text-anchor="start" >5LDH-1SL</text>
<path d="M342.3,408.6 L344.5,412.6 L340.1,412.6 Z" fill="#f0a066" fill-opacity="0.75" stroke="#f0a066" stroke-width="0.6"/>
<text x="349.6" y="413.5" font-size="7.5" text-anchor="start" >2LDH-1SL</text>
<path d="M342.3,422.7 L344.6,418.7 L340.0,418.7 Z" fill="#e5737a" fill-opacity="0.3" stroke="#e5737a" stroke-width="0.8"/>
<text x="349.6" y="423.0" font-size="7.5" text-anchor="start" >1LDH-1SL</text>
<rect x="336.2" y="386.4" width="137.7" height="136.0" fill="none" stroke="#3a3a3a" stroke-width="1.3"/>
<line x1="333.7" y1="522.3" x2="336.2" y2="522.3" stroke="#3a3a3a" stroke-width="1.1" />
<text x="332.5" y="525.1" font-size="7.8" text-anchor="end" >0.00</text>
<line x1="333.7" y1="508.0" x2="336.2" y2="508.0" stroke="#3a3a3a" stroke-width="1.1" />
<text x="332.5" y="510.8" font-size="7.8" text-anchor="end" >0.05</text>
<line x1="333.7" y1="493.7" x2="336.2" y2="493.7" stroke="#3a3a3a" stroke-width="1.1" />
<text x="332.5" y="496.5" font-size="7.8" text-anchor="end" >0.10</text>
<line x1="333.7" y1="479.3" x2="336.2" y2="479.3" stroke="#3a3a3a" stroke-width="1.1" />
<text x="332.5" y="482.1" font-size="7.8" text-anchor="end" >0.15</text>
<line x1="333.7" y1="465.0" x2="336.2" y2="465.0" stroke="#3a3a3a" stroke-width="1.1" />
<text x="332.5" y="467.8" font-size="7.8" text-anchor="end" >0.20</text>
<line x1="333.7" y1="450.7" x2="336.2" y2="450.7" stroke="#3a3a3a" stroke-width="1.1" />
<text x="332.5" y="453.5" font-size="7.8" text-anchor="end" >0.25</text>
<line x1="333.7" y1="436.4" x2="336.2" y2="436.4" stroke="#3a3a3a" stroke-width="1.1" />
<text x="332.5" y="439.2" font-size="7.8" text-anchor="end" >0.30</text>
<line x1="333.7" y1="422.1" x2="336.2" y2="422.1" stroke="#3a3a3a" stroke-width="1.1" />
<text x="332.5" y="424.9" font-size="7.8" text-anchor="end" >0.35</text>
<line x1="333.7" y1="407.7" x2="336.2" y2="407.7" stroke="#3a3a3a" stroke-width="1.1" />
<text x="332.5" y="410.5" font-size="7.8" text-anchor="end" >0.40</text>
<line x1="333.7" y1="393.4" x2="336.2" y2="393.4" stroke="#3a3a3a" stroke-width="1.1" />
<text x="332.5" y="396.2" font-size="7.8" text-anchor="end" >0.45</text>
<line x1="334.7" y1="515.1" x2="336.2" y2="515.1" stroke="#3a3a3a" stroke-width="1.0" />
<line x1="334.7" y1="500.8" x2="336.2" y2="500.8" stroke="#3a3a3a" stroke-width="1.0" />
<line x1="334.7" y1="486.5" x2="336.2" y2="486.5" stroke="#3a3a3a" stroke-width="1.0" />
<line x1="334.7" y1="472.2" x2="336.2" y2="472.2" stroke="#3a3a3a" stroke-width="1.0" />
<line x1="334.7" y1="457.9" x2="336.2" y2="457.9" stroke="#3a3a3a" stroke-width="1.0" />
<line x1="334.7" y1="443.5" x2="336.2" y2="443.5" stroke="#3a3a3a" stroke-width="1.0" />
<line x1="334.7" y1="429.2" x2="336.2" y2="429.2" stroke="#3a3a3a" stroke-width="1.0" />
<line x1="334.7" y1="414.9" x2="336.2" y2="414.9" stroke="#3a3a3a" stroke-width="1.0" />
<line x1="334.7" y1="400.6" x2="336.2" y2="400.6" stroke="#3a3a3a" stroke-width="1.0" />
<line x1="346.0" y1="522.4" x2="346.0" y2="524.9" stroke="#3a3a3a" stroke-width="1.1" />
<text x="346.0" y="532.4" font-size="7.8" text-anchor="middle" >0</text>
<line x1="365.8" y1="522.4" x2="365.8" y2="524.9" stroke="#3a3a3a" stroke-width="1.1" />
<text x="365.8" y="532.4" font-size="7.8" text-anchor="middle" >10</text>
<line x1="385.6" y1="522.4" x2="385.6" y2="524.9" stroke="#3a3a3a" stroke-width="1.1" />
<text x="385.6" y="532.4" font-size="7.8" text-anchor="middle" >20</text>
<line x1="405.4" y1="522.4" x2="405.4" y2="524.9" stroke="#3a3a3a" stroke-width="1.1" />
<text x="405.4" y="532.4" font-size="7.8" text-anchor="middle" >30</text>
<line x1="425.2" y1="522.4" x2="425.2" y2="524.9" stroke="#3a3a3a" stroke-width="1.1" />
<text x="425.2" y="532.4" font-size="7.8" text-anchor="middle" >40</text>
<line x1="445.0" y1="522.4" x2="445.0" y2="524.9" stroke="#3a3a3a" stroke-width="1.1" />
<text x="445.0" y="532.4" font-size="7.8" text-anchor="middle" >50</text>
<line x1="464.8" y1="522.4" x2="464.8" y2="524.9" stroke="#3a3a3a" stroke-width="1.1" />
<text x="464.8" y="532.4" font-size="7.8" text-anchor="middle" >60</text>
<line x1="355.9" y1="522.4" x2="355.9" y2="523.9" stroke="#3a3a3a" stroke-width="1.0" />
<line x1="375.7" y1="522.4" x2="375.7" y2="523.9" stroke="#3a3a3a" stroke-width="1.0" />
<line x1="395.5" y1="522.4" x2="395.5" y2="523.9" stroke="#3a3a3a" stroke-width="1.0" />
<line x1="415.3" y1="522.4" x2="415.3" y2="523.9" stroke="#3a3a3a" stroke-width="1.0" />
<line x1="435.1" y1="522.4" x2="435.1" y2="523.9" stroke="#3a3a3a" stroke-width="1.0" />
<line x1="454.9" y1="522.4" x2="454.9" y2="523.9" stroke="#3a3a3a" stroke-width="1.0" />
<text x="0" y="0" font-size="8.4" text-anchor="middle" transform="translate(316.3,454.5) rotate(-90)">Concentration of MPD (mM)</text>
<text x="405.2" y="545.6" font-size="8.4" text-anchor="middle" >Diffusion time (s)</text>
<text x="301.5" y="390.5" font-size="17.5" text-anchor="start" >h</text>
<path d="M547.8,475.5 C548.6,474.9 551.1,473.0 552.7,471.8 C554.3,470.6 556.0,469.4 557.6,468.2 C559.3,467.1 560.9,465.9 562.5,464.8 C564.2,463.6 565.8,462.5 567.4,461.4 C569.1,460.3 570.7,459.2 572.3,458.1 C574.0,457.0 575.6,456.0 577.2,454.9 C578.9,453.9 580.5,452.8 582.2,451.8 C583.8,450.8 585.4,449.8 587.1,448.9 C588.7,447.9 590.3,446.9 592.0,446.0 C593.6,445.0 595.2,444.1 596.9,443.2 C598.5,442.3 600.1,441.4 601.8,440.5 C603.4,439.6 605.1,438.8 606.7,437.9 C608.3,437.1 610.0,436.2 611.6,435.4 C613.2,434.6 614.9,433.8 616.5,433.0 C618.1,432.2 619.8,431.5 621.4,430.7 C623.0,430.0 624.7,429.2 626.3,428.5 C628.0,427.8 629.6,427.1 631.2,426.4 C632.9,425.7 634.5,425.1 636.1,424.4 C637.8,423.8 639.4,423.1 641.0,422.5 C642.7,421.9 644.3,421.3 645.9,420.7 C647.6,420.1 649.2,419.6 650.9,419.0 C652.5,418.5 654.1,417.9 655.8,417.4 C657.4,416.9 659.0,416.4 660.7,415.9 C662.3,415.4 664.8,414.7 665.6,414.5" fill="none" stroke="#6f9fd0" stroke-width="0.9"/>
<rect x="546.0" y="477.0" width="3.6" height="3.6" fill="#6f9fd0" fill-opacity="0.45" stroke="#6f9fd0" stroke-width="0.8"/>
<rect x="555.8" y="464.5" width="3.6" height="3.6" fill="#6f9fd0" fill-opacity="0.45" stroke="#6f9fd0" stroke-width="0.8"/>
<rect x="565.6" y="456.3" width="3.6" height="3.6" fill="#6f9fd0" fill-opacity="0.45" stroke="#6f9fd0" stroke-width="0.8"/>
<rect x="575.4" y="452.5" width="3.6" height="3.6" fill="#6f9fd0" fill-opacity="0.45" stroke="#6f9fd0" stroke-width="0.8"/>
<rect x="585.3" y="448.1" width="3.6" height="3.6" fill="#6f9fd0" fill-opacity="0.45" stroke="#6f9fd0" stroke-width="0.8"/>
<rect x="595.1" y="441.6" width="3.6" height="3.6" fill="#6f9fd0" fill-opacity="0.45" stroke="#6f9fd0" stroke-width="0.8"/>
<rect x="604.9" y="438.4" width="3.6" height="3.6" fill="#6f9fd0" fill-opacity="0.45" stroke="#6f9fd0" stroke-width="0.8"/>
<rect x="614.7" y="430.2" width="3.6" height="3.6" fill="#6f9fd0" fill-opacity="0.45" stroke="#6f9fd0" stroke-width="0.8"/>
<rect x="624.5" y="426.4" width="3.6" height="3.6" fill="#6f9fd0" fill-opacity="0.45" stroke="#6f9fd0" stroke-width="0.8"/>
<rect x="634.3" y="423.1" width="3.6" height="3.6" fill="#6f9fd0" fill-opacity="0.45" stroke="#6f9fd0" stroke-width="0.8"/>
<rect x="644.1" y="419.3" width="3.6" height="3.6" fill="#6f9fd0" fill-opacity="0.45" stroke="#6f9fd0" stroke-width="0.8"/>
<rect x="654.0" y="416.1" width="3.6" height="3.6" fill="#6f9fd0" fill-opacity="0.45" stroke="#6f9fd0" stroke-width="0.8"/>
<rect x="663.8" y="411.7" width="3.6" height="3.6" fill="#6f9fd0" fill-opacity="0.45" stroke="#6f9fd0" stroke-width="0.8"/>
<path d="M547.8,498.9 C548.6,498.5 551.1,497.0 552.7,496.1 C554.3,495.2 556.0,494.3 557.6,493.4 C559.3,492.5 560.9,491.7 562.5,490.8 C564.2,490.0 565.8,489.1 567.4,488.3 C569.1,487.5 570.7,486.7 572.3,485.9 C574.0,485.1 575.6,484.4 577.2,483.6 C578.9,482.9 580.5,482.2 582.2,481.4 C583.8,480.7 585.4,480.0 587.1,479.4 C588.7,478.7 590.3,478.0 592.0,477.4 C593.6,476.7 595.2,476.1 596.9,475.5 C598.5,474.9 600.1,474.3 601.8,473.7 C603.4,473.1 605.1,472.6 606.7,472.0 C608.3,471.5 610.0,471.0 611.6,470.4 C613.2,469.9 614.9,469.4 616.5,469.0 C618.1,468.5 619.8,468.0 621.4,467.6 C623.0,467.2 624.7,466.7 626.3,466.3 C628.0,465.9 629.6,465.5 631.2,465.2 C632.9,464.8 634.5,464.4 636.1,464.1 C637.8,463.8 639.4,463.4 641.0,463.1 C642.7,462.8 644.3,462.5 645.9,462.3 C647.6,462.0 649.2,461.8 650.9,461.5 C652.5,461.3 654.1,461.1 655.8,460.9 C657.4,460.7 659.0,460.5 660.7,460.3 C662.3,460.1 664.8,459.9 665.6,459.9" fill="none" stroke="#5fae74" stroke-width="0.9"/>
<circle cx="547.8" cy="496.2" r="2.0" fill="#5fae74" fill-opacity="0.75" stroke="#5fae74" stroke-width="0.6"/>
<circle cx="557.6" cy="494.0" r="2.0" fill="#5fae74" fill-opacity="0.75" stroke="#5fae74" stroke-width="0.6"/>
<circle cx="567.4" cy="490.7" r="2.0" fill="#5fae74" fill-opacity="0.75" stroke="#5fae74" stroke-width="0.6"/>
<circle cx="577.2" cy="485.9" r="2.0" fill="#5fae74" fill-opacity="0.75" stroke="#5fae74" stroke-width="0.6"/>
<circle cx="587.1" cy="480.4" r="2.0" fill="#5fae74" fill-opacity="0.75" stroke="#5fae74" stroke-width="0.6"/>
<circle cx="596.9" cy="474.4" r="2.0" fill="#5fae74" fill-opacity="0.75" stroke="#5fae74" stroke-width="0.6"/>
<circle cx="606.7" cy="469.5" r="2.0" fill="#5fae74" fill-opacity="0.75" stroke="#5fae74" stroke-width="0.6"/>
<circle cx="616.5" cy="467.9" r="2.0" fill="#5fae74" fill-opacity="0.75" stroke="#5fae74" stroke-width="0.6"/>
<circle cx="626.3" cy="465.7" r="2.0" fill="#5fae74" fill-opacity="0.75" stroke="#5fae74" stroke-width="0.6"/>
<circle cx="636.1" cy="464.6" r="2.0" fill="#5fae74" fill-opacity="0.75" stroke="#5fae74" stroke-width="0.6"/>
<circle cx="645.9" cy="463.0" r="2.0" fill="#5fae74" fill-opacity="0.75" stroke="#5fae74" stroke-width="0.6"/>
<circle cx="655.8" cy="461.4" r="2.0" fill="#5fae74" fill-opacity="0.75" stroke="#5fae74" stroke-width="0.6"/>
<circle cx="665.6" cy="459.7" r="2.0" fill="#5fae74" fill-opacity="0.75" stroke="#5fae74" stroke-width="0.6"/>
<rect x="546.8" y="394.8" width="3.6" height="3.6" fill="#6f9fd0" fill-opacity="0.45" stroke="#6f9fd0" stroke-width="0.8"/>
<text x="555.9" y="399.2" font-size="7.5" text-anchor="start" >Control</text>
<circle cx="548.6" cy="405.8" r="2.0" fill="#5fae74" fill-opacity="0.75" stroke="#5fae74" stroke-width="0.6"/>
<text x="555.9" y="408.4" font-size="7.5" text-anchor="start" >LDH</text>
<rect x="537.5" y="386.4" width="138.0" height="135.9" fill="none" stroke="#3a3a3a" stroke-width="1.3"/>
<line x1="535.0" y1="522.3" x2="537.5" y2="522.3" stroke="#3a3a3a" stroke-width="1.1" />
<text x="533.8" y="525.1" font-size="7.8" text-anchor="end" >0.00</text>
<line x1="535.0" y1="495.1" x2="537.5" y2="495.1" stroke="#3a3a3a" stroke-width="1.1" />
<text x="533.8" y="497.9" font-size="7.8" text-anchor="end" >0.05</text>
<line x1="535.0" y1="467.9" x2="537.5" y2="467.9" stroke="#3a3a3a" stroke-width="1.1" />
<text x="533.8" y="470.7" font-size="7.8" text-anchor="end" >0.10</text>
<line x1="535.0" y1="440.7" x2="537.5" y2="440.7" stroke="#3a3a3a" stroke-width="1.1" />
<text x="533.8" y="443.5" font-size="7.8" text-anchor="end" >0.15</text>
<line x1="535.0" y1="413.5" x2="537.5" y2="413.5" stroke="#3a3a3a" stroke-width="1.1" />
<text x="533.8" y="416.3" font-size="7.8" text-anchor="end" >0.20</text>
<line x1="535.0" y1="386.3" x2="537.5" y2="386.3" stroke="#3a3a3a" stroke-width="1.1" />
<text x="533.8" y="389.1" font-size="7.8" text-anchor="end" >0.25</text>
<line x1="536.0" y1="508.7" x2="537.5" y2="508.7" stroke="#3a3a3a" stroke-width="1.0" />
<line x1="536.0" y1="481.5" x2="537.5" y2="481.5" stroke="#3a3a3a" stroke-width="1.0" />
<line x1="536.0" y1="454.3" x2="537.5" y2="454.3" stroke="#3a3a3a" stroke-width="1.0" />
<line x1="536.0" y1="427.1" x2="537.5" y2="427.1" stroke="#3a3a3a" stroke-width="1.0" />
<line x1="536.0" y1="399.9" x2="537.5" y2="399.9" stroke="#3a3a3a" stroke-width="1.0" />
<line x1="547.8" y1="522.3" x2="547.8" y2="524.8" stroke="#3a3a3a" stroke-width="1.1" />
<text x="547.8" y="532.3" font-size="7.8" text-anchor="middle" >0</text>
<line x1="567.4" y1="522.3" x2="567.4" y2="524.8" stroke="#3a3a3a" stroke-width="1.1" />
<text x="567.4" y="532.3" font-size="7.8" text-anchor="middle" >10</text>
<line x1="587.1" y1="522.3" x2="587.1" y2="524.8" stroke="#3a3a3a" stroke-width="1.1" />
<text x="587.1" y="532.3" font-size="7.8" text-anchor="middle" >20</text>
<line x1="606.7" y1="522.3" x2="606.7" y2="524.8" stroke="#3a3a3a" stroke-width="1.1" />
<text x="606.7" y="532.3" font-size="7.8" text-anchor="middle" >30</text>
<line x1="626.3" y1="522.3" x2="626.3" y2="524.8" stroke="#3a3a3a" stroke-width="1.1" />
<text x="626.3" y="532.3" font-size="7.8" text-anchor="middle" >40</text>
<line x1="645.9" y1="522.3" x2="645.9" y2="524.8" stroke="#3a3a3a" stroke-width="1.1" />
<text x="645.9" y="532.3" font-size="7.8" text-anchor="middle" >50</text>
<line x1="665.6" y1="522.3" x2="665.6" y2="524.8" stroke="#3a3a3a" stroke-width="1.1" />
<text x="665.6" y="532.3" font-size="7.8" text-anchor="middle" >60</text>
<line x1="557.6" y1="522.3" x2="557.6" y2="523.8" stroke="#3a3a3a" stroke-width="1.0" />
<line x1="577.2" y1="522.3" x2="577.2" y2="523.8" stroke="#3a3a3a" stroke-width="1.0" />
<line x1="596.9" y1="522.3" x2="596.9" y2="523.8" stroke="#3a3a3a" stroke-width="1.0" />
<line x1="616.5" y1="522.3" x2="616.5" y2="523.8" stroke="#3a3a3a" stroke-width="1.0" />
<line x1="636.1" y1="522.3" x2="636.1" y2="523.8" stroke="#3a3a3a" stroke-width="1.0" />
<line x1="655.8" y1="522.3" x2="655.8" y2="523.8" stroke="#3a3a3a" stroke-width="1.0" />
<text x="0" y="0" font-size="8.4" text-anchor="middle" transform="translate(518.1,454.4) rotate(-90)">Concentration of MPD (mM)</text>
<text x="607.0" y="545.6" font-size="8.4" text-anchor="middle" >Diffusion time (s)</text>
<text x="503.0" y="392.0" font-size="17.5" text-anchor="start" >i</text>
</svg></body></html>
